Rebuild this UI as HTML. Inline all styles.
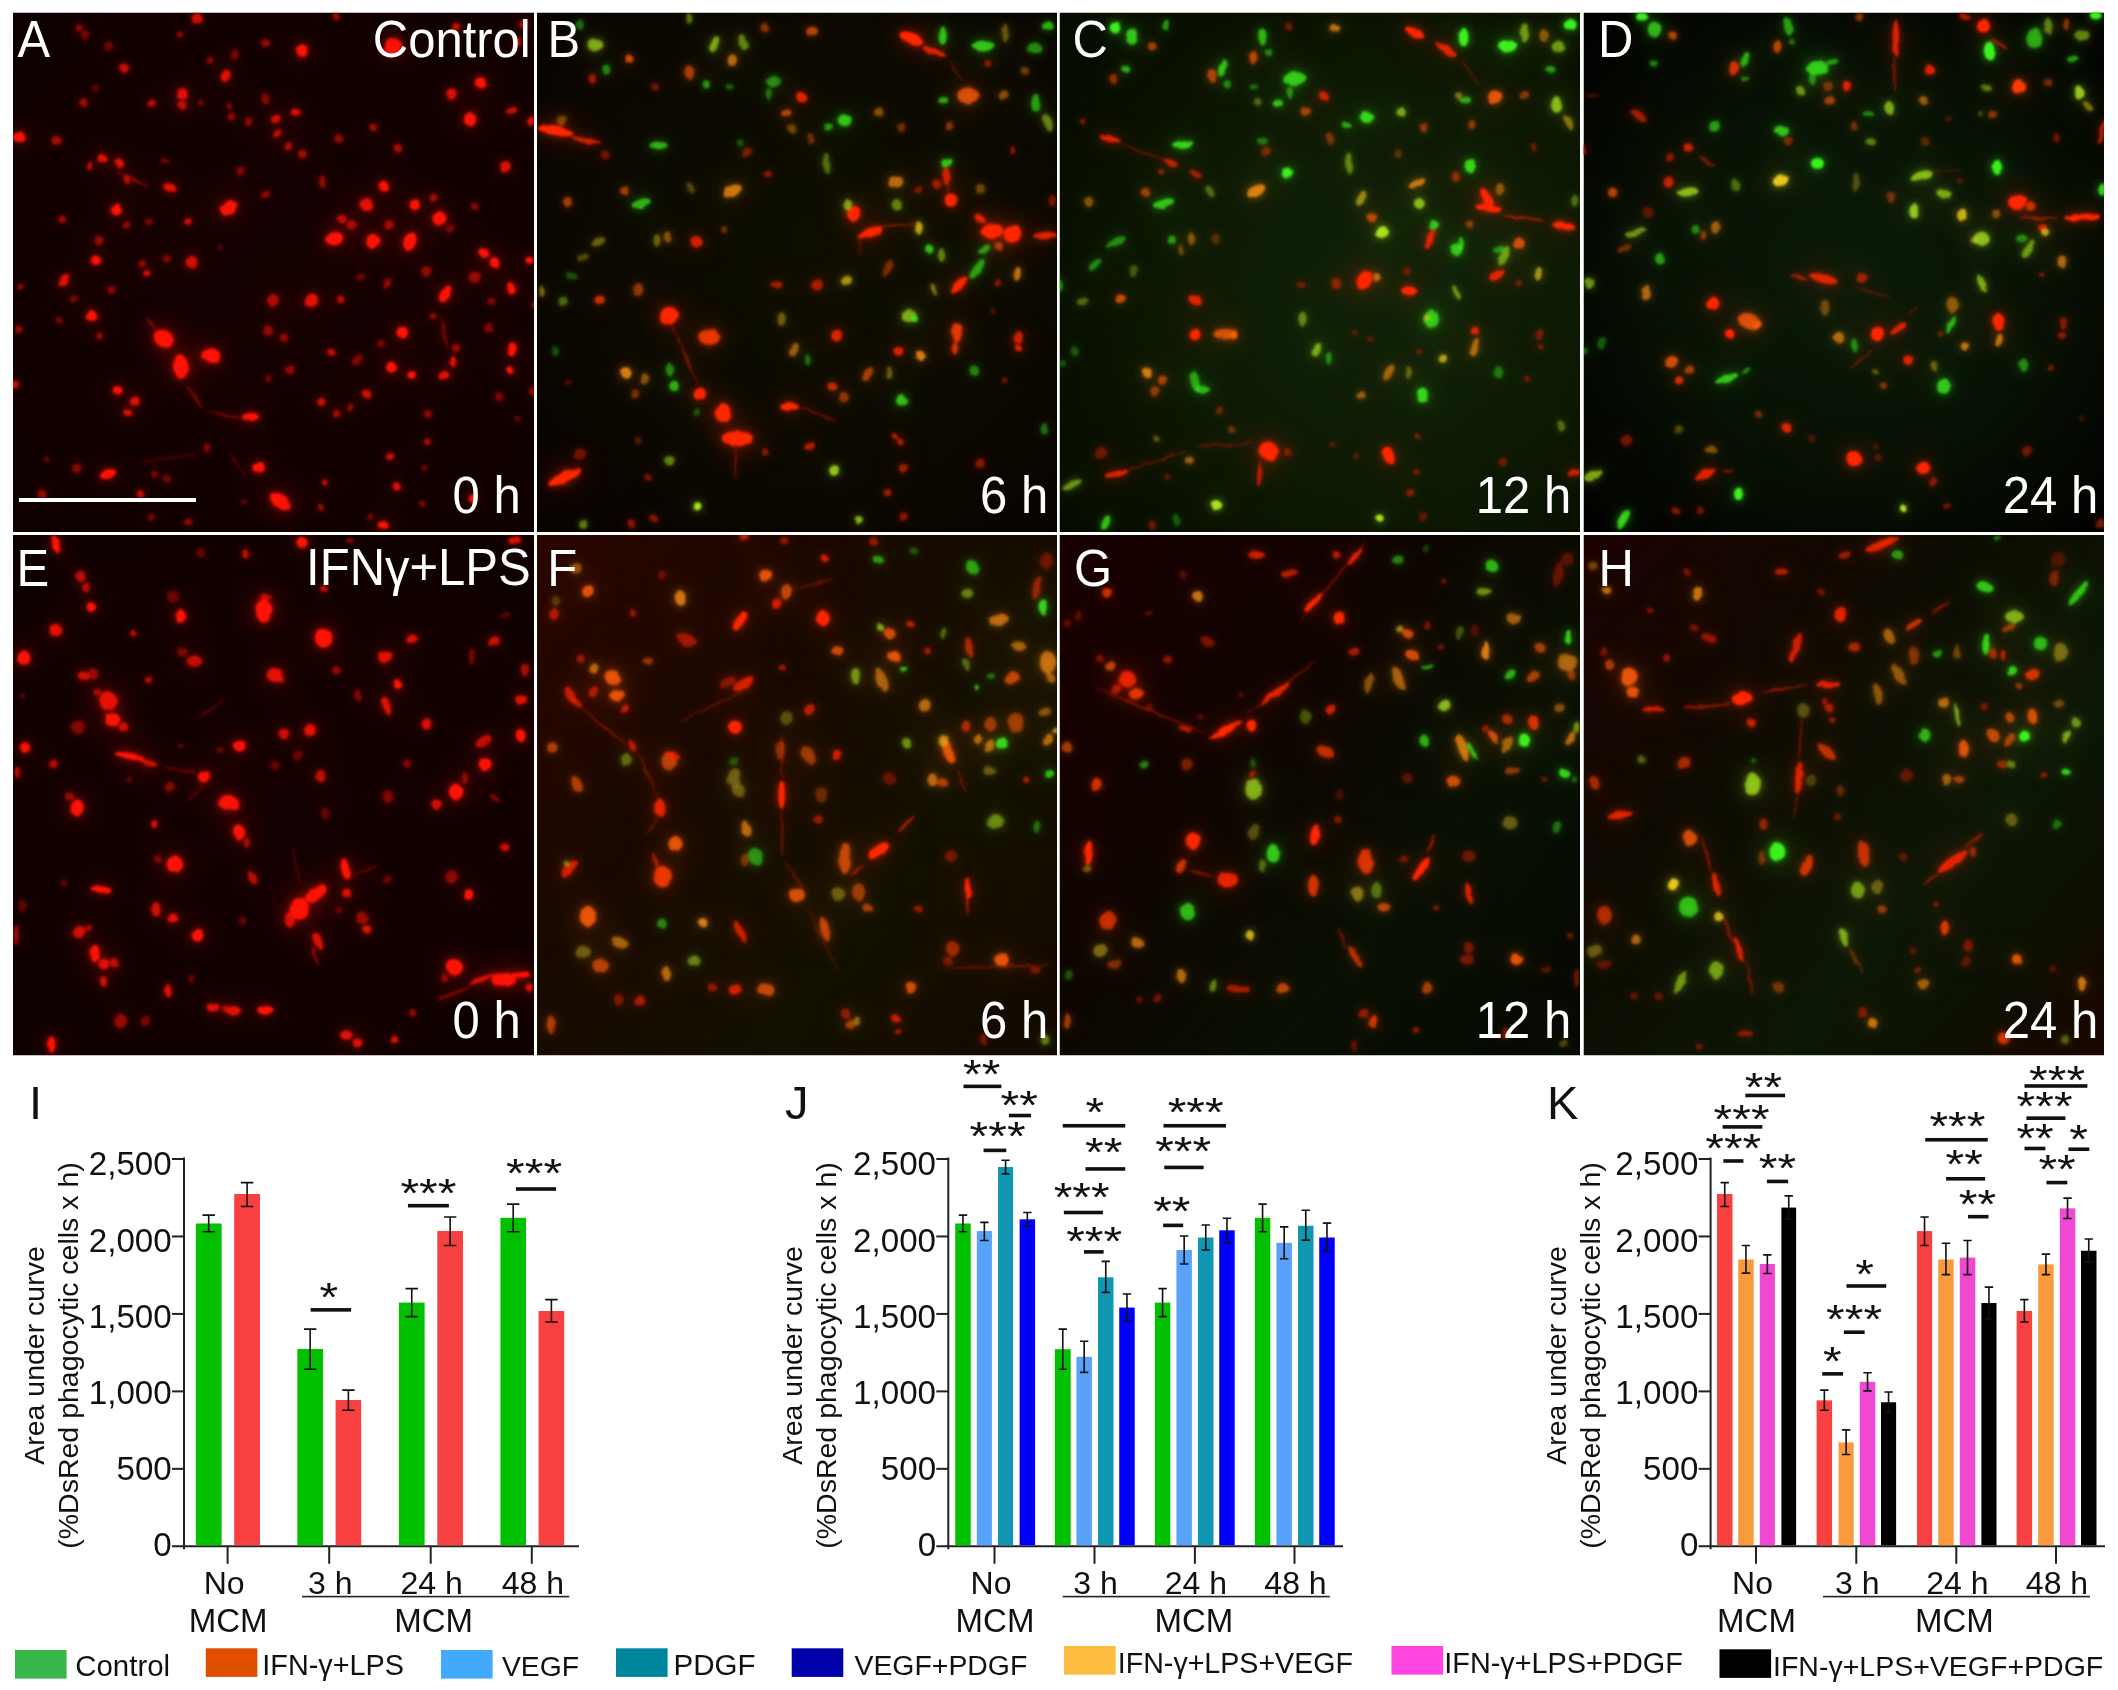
<!DOCTYPE html>
<html lang="en"><head><meta charset="utf-8"><title>Figure</title>
<style>html,body{margin:0;padding:0;background:#fff;}svg{display:block;}text{font-family:"Liberation Sans", sans-serif;}.w{fill:#fff;}.k{fill:#111;}</style></head><body>
<svg width="2118" height="1690" viewBox="0 0 2118 1690">
<defs>
<filter id="glow" x="-5%" y="-5%" width="110%" height="110%" color-interpolation-filters="sRGB"><feTurbulence type="fractalNoise" baseFrequency="0.028" numOctaves="2" seed="7" result="n"/><feDisplacementMap in="SourceGraphic" in2="n" scale="14" xChannelSelector="R" yChannelSelector="G" result="d"/><feGaussianBlur in="d" stdDeviation="4" result="a"/><feGaussianBlur in="d" stdDeviation="13" result="b"/><feGaussianBlur in="SourceGraphic" stdDeviation="50" result="h0"/><feComponentTransfer in="b" result="c"><feFuncA type="linear" slope="0.7"/></feComponentTransfer><feComponentTransfer in="h0" result="h"><feFuncA type="linear" slope="0.6"/></feComponentTransfer><feMerge><feMergeNode in="h"/><feMergeNode in="c"/><feMergeNode in="a"/></feMerge></filter>
<radialGradient id="bgA" cx="50%" cy="50%" r="75%"><stop offset="0" stop-color="#150000"/><stop offset="1" stop-color="#0e0000"/></radialGradient>
<radialGradient id="bgB" cx="55%" cy="45%" r="70%"><stop offset="0" stop-color="#0e0e01"/><stop offset="0.6" stop-color="#0b0900"/><stop offset="1" stop-color="#090300"/></radialGradient>
<radialGradient id="bgC" cx="62%" cy="55%" r="72%"><stop offset="0" stop-color="#102208"/><stop offset="0.5" stop-color="#0d1a04"/><stop offset="1" stop-color="#070c00"/></radialGradient>
<radialGradient id="bgD" cx="52%" cy="50%" r="68%"><stop offset="0" stop-color="#0b1b08"/><stop offset="0.55" stop-color="#071104"/><stop offset="1" stop-color="#020100"/></radialGradient>
<radialGradient id="bgE" cx="50%" cy="50%" r="75%"><stop offset="0" stop-color="#140000"/><stop offset="1" stop-color="#0e0000"/></radialGradient>
<linearGradient id="bgF" x1="0" y1="0" x2="1" y2="0.8"><stop offset="0" stop-color="#2a0500"/><stop offset="0.4" stop-color="#180900"/><stop offset="0.75" stop-color="#121000"/><stop offset="1" stop-color="#140b00"/></linearGradient>
<linearGradient id="bgG" x1="0" y1="0" x2="1" y2="0.8"><stop offset="0" stop-color="#1a0000"/><stop offset="0.4" stop-color="#0e0400"/><stop offset="0.75" stop-color="#081004"/><stop offset="1" stop-color="#060a02"/></linearGradient>
<linearGradient id="bgH" x1="0" y1="0" x2="1" y2="0.9"><stop offset="0" stop-color="#1c0200"/><stop offset="0.4" stop-color="#0d0c02"/><stop offset="0.7" stop-color="#0c1706"/><stop offset="0.88" stop-color="#0c1003"/><stop offset="1" stop-color="#180700"/></linearGradient>
</defs>
<rect x="0" y="0" width="2118" height="1690" fill="#fff"/>
<svg x="13" y="12.5" width="521" height="519.5" viewBox="0 0 521 519.5">
<rect x="0" y="0" width="521" height="519.5" fill="url(#bgA)"/>
<g transform="scale(0.30769)" filter="url(#glow)">
<ellipse cx="940" cy="125" rx="18.92" ry="18.92" fill="#ff1206" opacity="1"/>
<ellipse cx="1235" cy="110" rx="25.5" ry="25.5" fill="#ff1206" opacity="1"/>
<ellipse cx="1520" cy="230" rx="18.92" ry="18.92" fill="#ff1206" opacity="1"/>
<ellipse cx="1425" cy="265" rx="13.28" ry="18.92" fill="#ff1206" opacity="0.81"/>
<ellipse cx="1485" cy="345" rx="20.8" ry="20.8" fill="#ff1206" opacity="1"/>
<ellipse cx="1685" cy="355" rx="13.28" ry="13.28" fill="#ff1206" opacity="0.81"/>
<ellipse cx="1620" cy="320" rx="18.92" ry="11.4" fill="#ff1206" opacity="0.72" transform="rotate(-20 1620 320)"/>
<ellipse cx="690" cy="205" rx="15.16" ry="18.92" fill="#ff1206" opacity="0.81"/>
<ellipse cx="550" cy="265" rx="18.92" ry="18.92" fill="#ff1206" opacity="0.81"/>
<ellipse cx="550" cy="300" rx="13.28" ry="13.28" fill="#ff1206" opacity="0.63"/>
<ellipse cx="360" cy="180" rx="13.28" ry="13.28" fill="#ff1206" opacity="0.72"/>
<ellipse cx="230" cy="290" rx="13.28" ry="13.28" fill="#ff1206" opacity="0.54"/>
<ellipse cx="450" cy="295" rx="13.28" ry="13.28" fill="#ff1206" opacity="0.63"/>
<ellipse cx="920" cy="325" rx="13.28" ry="13.28" fill="#ff1206" opacity="0.81"/>
<ellipse cx="855" cy="345" rx="13.28" ry="13.28" fill="#ff1206" opacity="0.72"/>
<ellipse cx="20" cy="405" rx="20.8" ry="15.16" fill="#ff1206" opacity="1"/>
<ellipse cx="140" cy="415" rx="15.16" ry="15.16" fill="#ff1206" opacity="0.54"/>
<ellipse cx="290" cy="475" rx="18.92" ry="13.28" fill="#ff1206" opacity="0.81" transform="rotate(30 290 475)"/>
<ellipse cx="345" cy="490" rx="17.04" ry="11.4" fill="#ff1206" opacity="0.81" transform="rotate(30 345 490)"/>
<ellipse cx="510" cy="570" rx="22.68" ry="13.28" fill="#ff1206" opacity="0.81" transform="rotate(25 510 570)"/>
<ellipse cx="700" cy="635" rx="28.32" ry="20.8" fill="#ff1206" opacity="1" transform="rotate(-25 700 635)"/>
<ellipse cx="335" cy="640" rx="15.16" ry="18.92" fill="#ff1206" opacity="1"/>
<ellipse cx="160" cy="670" rx="13.28" ry="13.28" fill="#ff1206" opacity="0.54"/>
<ellipse cx="370" cy="690" rx="11.4" ry="11.4" fill="#ff1206" opacity="0.45"/>
<ellipse cx="570" cy="680" rx="13.28" ry="13.28" fill="#ff1206" opacity="0.72"/>
<ellipse cx="1205" cy="565" rx="17.04" ry="17.04" fill="#ff1206" opacity="1"/>
<ellipse cx="1305" cy="625" rx="17.04" ry="17.04" fill="#ff1206" opacity="1"/>
<ellipse cx="1150" cy="625" rx="20.8" ry="20.8" fill="#ff1206" opacity="0.81"/>
<ellipse cx="1385" cy="670" rx="20.8" ry="20.8" fill="#ff1206" opacity="1"/>
<ellipse cx="1045" cy="735" rx="28.32" ry="20.8" fill="#ff1206" opacity="1" transform="rotate(-15 1045 735)"/>
<ellipse cx="1170" cy="740" rx="20.8" ry="20.8" fill="#ff1206" opacity="1"/>
<ellipse cx="1290" cy="745" rx="18.92" ry="32.08" fill="#ff1206" opacity="1" transform="rotate(25 1290 745)"/>
<ellipse cx="1600" cy="500" rx="17.04" ry="17.04" fill="#ff1206" opacity="0.81"/>
<ellipse cx="1250" cy="440" rx="13.28" ry="13.28" fill="#ff1206" opacity="0.54"/>
<ellipse cx="1530" cy="780" rx="18.92" ry="15.16" fill="#ff1206" opacity="1" transform="rotate(40 1530 780)"/>
<ellipse cx="1565" cy="815" rx="15.16" ry="15.16" fill="#ff1206" opacity="1"/>
<ellipse cx="1680" cy="805" rx="15.16" ry="11.4" fill="#ff1206" opacity="1"/>
<ellipse cx="1405" cy="915" rx="15.16" ry="28.32" fill="#ff1206" opacity="1" transform="rotate(35 1405 915)"/>
<ellipse cx="1620" cy="895" rx="13.28" ry="20.8" fill="#ff1206" opacity="1"/>
<ellipse cx="270" cy="805" rx="15.16" ry="15.16" fill="#ff1206" opacity="1"/>
<ellipse cx="580" cy="810" rx="18.92" ry="18.92" fill="#ff1206" opacity="0.72"/>
<ellipse cx="435" cy="845" rx="11.4" ry="11.4" fill="#ff1206" opacity="0.81"/>
<ellipse cx="165" cy="870" rx="11.4" ry="22.68" fill="#ff1206" opacity="0.81" transform="rotate(35 165 870)"/>
<ellipse cx="255" cy="985" rx="17.04" ry="17.04" fill="#ff1206" opacity="1"/>
<ellipse cx="970" cy="935" rx="20.8" ry="20.8" fill="#ff1206" opacity="0.81"/>
<ellipse cx="845" cy="935" rx="18.92" ry="18.92" fill="#ff1206" opacity="0.54"/>
<ellipse cx="1065" cy="930" rx="11.4" ry="11.4" fill="#ff1206" opacity="0.63"/>
<ellipse cx="490" cy="1060" rx="33.96" ry="26.44" fill="#ff1206" opacity="1" transform="rotate(25 490 1060)"/>
<ellipse cx="545" cy="1150" rx="24.56" ry="39.6" fill="#ff1206" opacity="1" transform="rotate(-10 545 1150)"/>
<ellipse cx="645" cy="1115" rx="32.08" ry="22.68" fill="#ff1206" opacity="1" transform="rotate(15 645 1115)"/>
<ellipse cx="1265" cy="1040" rx="18.92" ry="18.92" fill="#ff1206" opacity="1"/>
<ellipse cx="1620" cy="1095" rx="13.28" ry="22.68" fill="#ff1206" opacity="1"/>
<ellipse cx="1615" cy="1160" rx="11.4" ry="11.4" fill="#ff1206" opacity="1"/>
<ellipse cx="1230" cy="1155" rx="17.04" ry="17.04" fill="#ff1206" opacity="1"/>
<ellipse cx="1295" cy="1180" rx="13.28" ry="13.28" fill="#ff1206" opacity="1"/>
<ellipse cx="1400" cy="1180" rx="15.16" ry="15.16" fill="#ff1206" opacity="0.81"/>
<ellipse cx="1035" cy="1105" rx="13.28" ry="13.28" fill="#ff1206" opacity="0.72"/>
<ellipse cx="1150" cy="1240" rx="13.28" ry="13.28" fill="#ff1206" opacity="0.72"/>
<ellipse cx="1005" cy="1265" rx="13.28" ry="13.28" fill="#ff1206" opacity="0.72"/>
<ellipse cx="340" cy="1230" rx="15.16" ry="15.16" fill="#ff1206" opacity="1"/>
<ellipse cx="395" cy="1265" rx="15.16" ry="15.16" fill="#ff1206" opacity="0.81"/>
<ellipse cx="375" cy="1300" rx="13.28" ry="13.28" fill="#ff1206" opacity="0.81"/>
<ellipse cx="770" cy="1315" rx="26.44" ry="11.4" fill="#ff1206" opacity="1" transform="rotate(5 770 1315)"/>
<ellipse cx="800" cy="1480" rx="18.92" ry="15.16" fill="#ff1206" opacity="1"/>
<ellipse cx="310" cy="1500" rx="26.44" ry="11.4" fill="#ff1206" opacity="1" transform="rotate(-10 310 1500)"/>
<ellipse cx="870" cy="1590" rx="39.6" ry="20.8" fill="#ff1206" opacity="1" transform="rotate(35 870 1590)"/>
<ellipse cx="1205" cy="1665" rx="18.92" ry="13.28" fill="#ff1206" opacity="1"/>
<ellipse cx="1245" cy="1540" rx="13.28" ry="13.28" fill="#ff1206" opacity="0.81"/>
<ellipse cx="1225" cy="1440" rx="11.4" ry="11.4" fill="#ff1206" opacity="0.72"/>
<ellipse cx="1345" cy="1395" rx="11.4" ry="11.4" fill="#ff1206" opacity="0.63"/>
<ellipse cx="1495" cy="1580" rx="13.28" ry="13.28" fill="#ff1206" opacity="1"/>
<ellipse cx="1015" cy="1530" rx="11.4" ry="11.4" fill="#ff1206" opacity="0.63"/>
<ellipse cx="415" cy="1565" rx="11.4" ry="11.4" fill="#ff1206" opacity="0.72"/>
<ellipse cx="205" cy="1480" rx="17.04" ry="17.04" fill="#ff1206" opacity="0.405"/>
<ellipse cx="95" cy="1565" rx="15.16" ry="15.16" fill="#ff1206" opacity="0.45"/>
<ellipse cx="1430" cy="1135" rx="9.52" ry="18.92" fill="#ff1206" opacity="0.81"/>
<ellipse cx="1440" cy="1090" rx="13.28" ry="13.28" fill="#ff1206" opacity="0.45"/>
<ellipse cx="600" cy="20" rx="15.16" ry="15.16" fill="#ff1206" opacity="0.72"/>
<ellipse cx="1050" cy="15" rx="11.4" ry="11.4" fill="#ff1206" opacity="0.54"/>
<ellipse cx="215" cy="50" rx="11.4" ry="11.4" fill="#ff1206" opacity="0.45"/>
<ellipse cx="545" cy="70" rx="11.4" ry="11.4" fill="#ff1206" opacity="0.45"/>
<ellipse cx="820" cy="100" rx="11.4" ry="11.4" fill="#ff1206" opacity="0.45"/>
<ellipse cx="640" cy="155" rx="11.4" ry="11.4" fill="#ff1206" opacity="0.45"/>
<ellipse cx="1170" cy="375" rx="13.28" ry="13.28" fill="#ff1206" opacity="0.54"/>
<ellipse cx="1060" cy="410" rx="13.28" ry="13.28" fill="#ff1206" opacity="0.45"/>
<ellipse cx="895" cy="435" rx="13.28" ry="13.28" fill="#ff1206" opacity="0.54"/>
<ellipse cx="940" cy="460" rx="13.28" ry="13.28" fill="#ff1206" opacity="0.54"/>
<ellipse cx="860" cy="395" rx="13.28" ry="13.28" fill="#ff1206" opacity="0.63"/>
<ellipse cx="710" cy="340" rx="11.4" ry="11.4" fill="#ff1206" opacity="0.45"/>
<ellipse cx="765" cy="355" rx="11.4" ry="11.4" fill="#ff1206" opacity="0.45"/>
<ellipse cx="740" cy="515" rx="15.16" ry="15.16" fill="#ff1206" opacity="0.36"/>
<ellipse cx="1005" cy="550" rx="9.52" ry="20.8" fill="#ff1206" opacity="0.45"/>
<ellipse cx="820" cy="590" rx="11.4" ry="11.4" fill="#ff1206" opacity="0.45"/>
<ellipse cx="1365" cy="600" rx="11.4" ry="11.4" fill="#ff1206" opacity="0.54"/>
<ellipse cx="1070" cy="670" rx="15.16" ry="15.16" fill="#ff1206" opacity="0.63"/>
<ellipse cx="1100" cy="690" rx="15.16" ry="15.16" fill="#ff1206" opacity="0.54"/>
<ellipse cx="1220" cy="690" rx="15.16" ry="15.16" fill="#ff1206" opacity="0.54"/>
<ellipse cx="1500" cy="630" rx="11.4" ry="11.4" fill="#ff1206" opacity="0.45"/>
<ellipse cx="1420" cy="700" rx="13.28" ry="13.28" fill="#ff1206" opacity="0.36"/>
<ellipse cx="280" cy="740" rx="15.16" ry="15.16" fill="#ff1206" opacity="0.45"/>
<ellipse cx="440" cy="680" rx="11.4" ry="11.4" fill="#ff1206" opacity="0.36"/>
<ellipse cx="500" cy="800" rx="13.28" ry="13.28" fill="#ff1206" opacity="0.36"/>
<ellipse cx="420" cy="815" rx="11.4" ry="11.4" fill="#ff1206" opacity="0.45"/>
<ellipse cx="320" cy="900" rx="11.4" ry="11.4" fill="#ff1206" opacity="0.45"/>
<ellipse cx="200" cy="930" rx="11.4" ry="11.4" fill="#ff1206" opacity="0.36"/>
<ellipse cx="150" cy="1000" rx="11.4" ry="11.4" fill="#ff1206" opacity="0.36"/>
<ellipse cx="280" cy="1050" rx="11.4" ry="11.4" fill="#ff1206" opacity="0.45"/>
<ellipse cx="20" cy="1030" rx="11.4" ry="11.4" fill="#ff1206" opacity="0.54"/>
<ellipse cx="5" cy="1210" rx="13.28" ry="13.28" fill="#ff1206" opacity="0.72"/>
<ellipse cx="830" cy="1035" rx="15.16" ry="15.16" fill="#ff1206" opacity="0.45"/>
<ellipse cx="880" cy="1060" rx="13.28" ry="13.28" fill="#ff1206" opacity="0.45"/>
<ellipse cx="1130" cy="860" rx="15.16" ry="15.16" fill="#ff1206" opacity="0.27"/>
<ellipse cx="1215" cy="880" rx="11.4" ry="20.8" fill="#ff1206" opacity="0.45" transform="rotate(30 1215 880)"/>
<ellipse cx="1345" cy="840" rx="15.16" ry="15.16" fill="#ff1206" opacity="0.45"/>
<ellipse cx="1500" cy="860" rx="20.8" ry="20.8" fill="#ff1206" opacity="0.45"/>
<ellipse cx="1555" cy="940" rx="13.28" ry="13.28" fill="#ff1206" opacity="0.36"/>
<ellipse cx="1365" cy="985" rx="11.4" ry="11.4" fill="#ff1206" opacity="0.45"/>
<ellipse cx="1545" cy="1025" rx="15.16" ry="15.16" fill="#ff1206" opacity="0.36"/>
<ellipse cx="1690" cy="1230" rx="13.28" ry="13.28" fill="#ff1206" opacity="0.45"/>
<ellipse cx="1580" cy="1250" rx="13.28" ry="13.28" fill="#ff1206" opacity="0.36"/>
<ellipse cx="1350" cy="1305" rx="11.4" ry="11.4" fill="#ff1206" opacity="0.45"/>
<ellipse cx="1050" cy="1305" rx="11.4" ry="11.4" fill="#ff1206" opacity="0.54"/>
<ellipse cx="1095" cy="1285" rx="11.4" ry="11.4" fill="#ff1206" opacity="0.45"/>
<ellipse cx="900" cy="1160" rx="13.28" ry="13.28" fill="#ff1206" opacity="0.45"/>
<ellipse cx="830" cy="1190" rx="11.4" ry="11.4" fill="#ff1206" opacity="0.36"/>
<ellipse cx="1195" cy="1075" rx="11.4" ry="11.4" fill="#ff1206" opacity="0.36"/>
<ellipse cx="1120" cy="1130" rx="20.8" ry="13.28" fill="#ff1206" opacity="0.36" transform="rotate(-30 1120 1130)"/>
<ellipse cx="630" cy="1415" rx="13.28" ry="13.28" fill="#ff1206" opacity="0.36"/>
<ellipse cx="500" cy="1515" rx="13.28" ry="13.28" fill="#ff1206" opacity="0.36"/>
<ellipse cx="460" cy="1500" rx="11.4" ry="11.4" fill="#ff1206" opacity="0.36"/>
<ellipse cx="110" cy="1450" rx="9.52" ry="9.52" fill="#ff1206" opacity="0.36"/>
<ellipse cx="570" cy="1655" rx="11.4" ry="11.4" fill="#ff1206" opacity="0.45"/>
<ellipse cx="450" cy="1640" rx="11.4" ry="11.4" fill="#ff1206" opacity="0.36"/>
<ellipse cx="1340" cy="1480" rx="9.52" ry="9.52" fill="#ff1206" opacity="0.36"/>
<ellipse cx="1330" cy="1595" rx="9.52" ry="9.52" fill="#ff1206" opacity="0.45"/>
<ellipse cx="1160" cy="1640" rx="9.52" ry="9.52" fill="#ff1206" opacity="0.36"/>
<ellipse cx="1000" cy="1610" rx="9.52" ry="15.16" fill="#ff1206" opacity="0.54"/>
<ellipse cx="750" cy="1590" rx="9.52" ry="9.52" fill="#ff1206" opacity="0.27"/>
<ellipse cx="1640" cy="95" rx="13.28" ry="13.28" fill="#ff1206" opacity="0.63"/>
<ellipse cx="1660" cy="40" rx="13.28" ry="13.28" fill="#ff1206" opacity="0.63"/>
<ellipse cx="1440" cy="45" rx="11.4" ry="11.4" fill="#ff1206" opacity="0.72"/>
<ellipse cx="25" cy="890" rx="9.52" ry="9.52" fill="#ff1206" opacity="0.45"/>
<ellipse cx="1690" cy="950" rx="9.52" ry="9.52" fill="#ff1206" opacity="0.54"/>
<ellipse cx="1640" cy="1320" rx="9.52" ry="9.52" fill="#ff1206" opacity="0.27"/>
<ellipse cx="390" cy="540" rx="58.4" ry="4.02" fill="#ff1206" opacity="0.45" transform="rotate(28 390 540)"/>
<ellipse cx="590" cy="1250" rx="49" ry="4.02" fill="#ff1206" opacity="0.45" transform="rotate(55 590 1250)"/>
<ellipse cx="690" cy="1310" rx="58.4" ry="2.68" fill="#ff1206" opacity="0.45" transform="rotate(10 690 1310)"/>
<ellipse cx="730" cy="1470" rx="49" ry="2.68" fill="#ff1206" opacity="0.36" transform="rotate(55 730 1470)"/>
<ellipse cx="450" cy="1015" rx="30.2" ry="4.02" fill="#ff1206" opacity="0.45" transform="rotate(50 450 1015)"/>
<ellipse cx="500" cy="1450" rx="105.4" ry="2.68" fill="#ff1206" opacity="0.27" transform="rotate(-8 500 1450)"/>
<ellipse cx="1400" cy="1040" rx="5.36" ry="49" fill="#ff1206" opacity="0.36" transform="rotate(-10 1400 1040)"/>
<ellipse cx="235" cy="75" rx="13.28" ry="13.28" fill="#ff1206" opacity="0.36"/>
<ellipse cx="310" cy="110" rx="15.16" ry="15.16" fill="#ff1206" opacity="0.315"/>
<ellipse cx="720" cy="135" rx="11.4" ry="17.04" fill="#ff1206" opacity="0.36"/>
<ellipse cx="270" cy="245" rx="11.4" ry="11.4" fill="#ff1206" opacity="0.27"/>
<ellipse cx="608" cy="295" rx="11.4" ry="11.4" fill="#ff1206" opacity="0.36"/>
<ellipse cx="820" cy="280" rx="13.28" ry="18.92" fill="#ff1206" opacity="0.36"/>
<ellipse cx="705" cy="305" rx="9.52" ry="9.52" fill="#ff1206" opacity="0.45"/>
<ellipse cx="495" cy="482" rx="15.16" ry="9.52" fill="#ff1206" opacity="0.315"/>
<ellipse cx="370" cy="542" rx="13.28" ry="11.4" fill="#ff1206" opacity="0.63" transform="rotate(30 370 542)"/>
<ellipse cx="250" cy="500" rx="9.52" ry="13.28" fill="#ff1206" opacity="0.63"/>
<ellipse cx="672" cy="762" rx="9.52" ry="9.52" fill="#ff1206" opacity="0.225"/>
</g></svg>
<svg x="537" y="12.5" width="520" height="519.5" viewBox="0 0 520 519.5">
<rect x="0" y="0" width="520" height="519.5" fill="url(#bgB)"/>
<g transform="scale(0.30769)" filter="url(#glow)">
<ellipse cx="1215" cy="85" rx="39.6" ry="17.04" fill="#ff2600" opacity="1" transform="rotate(25 1215 85)"/>
<ellipse cx="1290" cy="128" rx="39.6" ry="8.58" fill="#ff2600" opacity="0.81" transform="rotate(20 1290 128)"/>
<ellipse cx="60" cy="385" rx="58.4" ry="13.28" fill="#ff2600" opacity="1" transform="rotate(10 60 385)"/>
<ellipse cx="160" cy="415" rx="49" ry="8.58" fill="#ff2600" opacity="0.72" transform="rotate(12 160 415)"/>
<ellipse cx="1030" cy="655" rx="22.68" ry="22.68" fill="#ff2600" opacity="1"/>
<ellipse cx="1345" cy="610" rx="18.92" ry="18.92" fill="#ff2600" opacity="1"/>
<ellipse cx="1085" cy="715" rx="39.6" ry="14.22" fill="#ff2600" opacity="1" transform="rotate(-20 1085 715)"/>
<ellipse cx="1480" cy="710" rx="34.9" ry="25.5" fill="#ff2600" opacity="1"/>
<ellipse cx="1545" cy="720" rx="28.32" ry="28.32" fill="#ff2600" opacity="1"/>
<ellipse cx="1650" cy="725" rx="39.6" ry="11.4" fill="#ff2600" opacity="0.81" transform="rotate(-5 1650 725)"/>
<ellipse cx="1440" cy="670" rx="20.8" ry="11.4" fill="#ff2600" opacity="0.81" transform="rotate(30 1440 670)"/>
<ellipse cx="1370" cy="885" rx="34.9" ry="12.34" fill="#ff2600" opacity="1" transform="rotate(-45 1370 885)"/>
<ellipse cx="430" cy="985" rx="28.32" ry="28.32" fill="#ff2600" opacity="1"/>
<ellipse cx="560" cy="1055" rx="34.9" ry="25.5" fill="#ff3c00" opacity="0.81"/>
<ellipse cx="530" cy="1240" rx="22.68" ry="18.92" fill="#ff2600" opacity="1"/>
<ellipse cx="605" cy="1300" rx="26.44" ry="30.2" fill="#ff2600" opacity="1"/>
<ellipse cx="650" cy="1385" rx="49" ry="24.56" fill="#ff2600" opacity="1"/>
<ellipse cx="820" cy="1280" rx="30.2" ry="14.22" fill="#ff2600" opacity="1"/>
<ellipse cx="90" cy="1510" rx="58.4" ry="15.16" fill="#ff2600" opacity="1" transform="rotate(-25 90 1510)"/>
<ellipse cx="1400" cy="270" rx="34.9" ry="25.5" fill="#ff5c0a" opacity="0.72"/>
<ellipse cx="860" cy="275" rx="17.04" ry="17.04" fill="#ff2600" opacity="0.81"/>
<ellipse cx="810" cy="325" rx="17.04" ry="11.4" fill="#ff5c0a" opacity="0.63"/>
<ellipse cx="1365" cy="1040" rx="18.92" ry="30.2" fill="#ff3c00" opacity="0.81"/>
<ellipse cx="1360" cy="1090" rx="9.52" ry="22.68" fill="#ff3c00" opacity="0.72" transform="rotate(10 1360 1090)"/>
<ellipse cx="975" cy="1050" rx="18.92" ry="18.92" fill="#ff2600" opacity="0.81"/>
<ellipse cx="1175" cy="1100" rx="15.16" ry="15.16" fill="#ff2600" opacity="0.81"/>
<ellipse cx="1245" cy="1115" rx="15.16" ry="15.16" fill="#f58c14" opacity="0.81"/>
<ellipse cx="1565" cy="1055" rx="13.28" ry="20.8" fill="#ff2600" opacity="0.72"/>
<ellipse cx="1565" cy="1090" rx="11.4" ry="11.4" fill="#ff2600" opacity="0.81"/>
<ellipse cx="520" cy="745" rx="18.92" ry="18.92" fill="#ff2600" opacity="0.72"/>
<ellipse cx="205" cy="935" rx="15.16" ry="15.16" fill="#ff3c00" opacity="0.72"/>
<ellipse cx="290" cy="1170" rx="17.04" ry="17.04" fill="#f58c14" opacity="0.81"/>
<ellipse cx="100" cy="615" rx="15.16" ry="15.16" fill="#ff5c0a" opacity="0.54"/>
<ellipse cx="285" cy="580" rx="15.16" ry="15.16" fill="#ff5c0a" opacity="0.54"/>
<ellipse cx="300" cy="150" rx="13.28" ry="13.28" fill="#ff5c0a" opacity="0.72"/>
<ellipse cx="180" cy="215" rx="13.28" ry="13.28" fill="#ff2600" opacity="0.54"/>
<ellipse cx="385" cy="240" rx="13.28" ry="13.28" fill="#ff2600" opacity="0.36"/>
<ellipse cx="495" cy="195" rx="15.16" ry="22.68" fill="#ff5c0a" opacity="0.54"/>
<ellipse cx="635" cy="155" rx="15.16" ry="18.92" fill="#f58c14" opacity="0.63"/>
<ellipse cx="895" cy="60" rx="17.04" ry="13.28" fill="#ff5c0a" opacity="0.63"/>
<ellipse cx="740" cy="50" rx="13.28" ry="13.28" fill="#ff5c0a" opacity="0.45"/>
<ellipse cx="635" cy="580" rx="30.2" ry="17.98" fill="#f58c14" opacity="0.72" transform="rotate(-25 635 580)"/>
<ellipse cx="1165" cy="550" rx="25.5" ry="18.92" fill="#f58c14" opacity="0.63"/>
<ellipse cx="1330" cy="530" rx="10.46" ry="30.2" fill="#ff2600" opacity="0.72"/>
<ellipse cx="1300" cy="555" rx="15.16" ry="15.16" fill="#ff2600" opacity="0.54"/>
<ellipse cx="1240" cy="700" rx="13.28" ry="18.92" fill="#e6c81e" opacity="0.72"/>
<ellipse cx="1010" cy="625" rx="13.28" ry="18.92" fill="#a6e220" opacity="0.63"/>
<ellipse cx="1170" cy="625" rx="18.92" ry="18.92" fill="#a6e220" opacity="0.45"/>
<ellipse cx="780" cy="885" rx="18.92" ry="11.4" fill="#ff2600" opacity="0.54"/>
<ellipse cx="910" cy="885" rx="18.92" ry="18.92" fill="#ff2600" opacity="0.54"/>
<ellipse cx="1005" cy="870" rx="17.04" ry="13.28" fill="#e6c81e" opacity="0.63"/>
<ellipse cx="1560" cy="850" rx="11.4" ry="22.68" fill="#f58c14" opacity="0.72"/>
<ellipse cx="1430" cy="835" rx="12.34" ry="39.6" fill="#3cf01e" opacity="0.54" transform="rotate(35 1430 835)"/>
<ellipse cx="1455" cy="770" rx="25.5" ry="11.4" fill="#3cf01e" opacity="0.54" transform="rotate(-35 1455 770)"/>
<ellipse cx="1275" cy="770" rx="13.28" ry="13.28" fill="#3cf01e" opacity="0.72"/>
<ellipse cx="1315" cy="790" rx="11.4" ry="20.8" fill="#a6e220" opacity="0.45"/>
<ellipse cx="1210" cy="985" rx="25.5" ry="20.8" fill="#a6e220" opacity="0.63"/>
<ellipse cx="1230" cy="995" rx="11.4" ry="11.4" fill="#3cf01e" opacity="0.81"/>
<ellipse cx="1185" cy="1260" rx="18.92" ry="18.92" fill="#3cf01e" opacity="0.72"/>
<ellipse cx="1420" cy="1165" rx="17.04" ry="17.04" fill="#3cf01e" opacity="0.45"/>
<ellipse cx="965" cy="1490" rx="15.16" ry="15.16" fill="#a6e220" opacity="0.81"/>
<ellipse cx="520" cy="1605" rx="13.28" ry="13.28" fill="#a6e220" opacity="1"/>
<ellipse cx="1045" cy="1650" rx="13.28" ry="13.28" fill="#a6e220" opacity="0.72"/>
<ellipse cx="445" cy="1215" rx="15.16" ry="15.16" fill="#3cf01e" opacity="0.63"/>
<ellipse cx="430" cy="1160" rx="11.4" ry="20.8" fill="#3cf01e" opacity="0.45"/>
<ellipse cx="340" cy="620" rx="30.2" ry="14.22" fill="#3cf01e" opacity="0.63" transform="rotate(-15 340 620)"/>
<ellipse cx="395" cy="430" rx="30.2" ry="11.4" fill="#3cf01e" opacity="0.63" transform="rotate(-5 395 430)"/>
<ellipse cx="190" cy="105" rx="25.5" ry="20.8" fill="#a6e220" opacity="0.63"/>
<ellipse cx="225" cy="185" rx="13.28" ry="17.04" fill="#3cf01e" opacity="0.45"/>
<ellipse cx="575" cy="105" rx="13.28" ry="25.5" fill="#a6e220" opacity="0.63" transform="rotate(20 575 105)"/>
<ellipse cx="670" cy="95" rx="13.28" ry="25.5" fill="#a6e220" opacity="0.45" transform="rotate(-20 670 95)"/>
<ellipse cx="770" cy="225" rx="25.5" ry="15.16" fill="#3cf01e" opacity="0.45"/>
<ellipse cx="755" cy="265" rx="9.52" ry="20.8" fill="#3cf01e" opacity="0.36"/>
<ellipse cx="550" cy="235" rx="11.4" ry="11.4" fill="#3cf01e" opacity="0.54"/>
<ellipse cx="625" cy="240" rx="15.16" ry="9.52" fill="#3cf01e" opacity="0.36"/>
<ellipse cx="1000" cy="350" rx="22.68" ry="18.92" fill="#3cf01e" opacity="0.72"/>
<ellipse cx="945" cy="370" rx="13.28" ry="13.28" fill="#3cf01e" opacity="0.54"/>
<ellipse cx="1320" cy="75" rx="11.4" ry="30.2" fill="#3cf01e" opacity="0.72"/>
<ellipse cx="1450" cy="110" rx="34.9" ry="18.92" fill="#3cf01e" opacity="0.72"/>
<ellipse cx="1520" cy="65" rx="11.4" ry="30.2" fill="#b09a1c" opacity="0.45"/>
<ellipse cx="1615" cy="115" rx="25.5" ry="15.16" fill="#3cf01e" opacity="0.45"/>
<ellipse cx="1660" cy="45" rx="18.92" ry="13.28" fill="#3cf01e" opacity="0.63"/>
<ellipse cx="1620" cy="295" rx="13.28" ry="30.2" fill="#3cf01e" opacity="0.54"/>
<ellipse cx="1660" cy="355" rx="13.28" ry="30.2" fill="#a6e220" opacity="0.45" transform="rotate(-20 1660 355)"/>
<ellipse cx="1320" cy="285" rx="13.28" ry="9.52" fill="#3cf01e" opacity="0.63"/>
<ellipse cx="1330" cy="490" rx="18.92" ry="13.28" fill="#3cf01e" opacity="0.72"/>
<ellipse cx="940" cy="490" rx="11.4" ry="34.9" fill="#a6e220" opacity="0.36"/>
<ellipse cx="1650" cy="1355" rx="13.28" ry="20.8" fill="#3cf01e" opacity="0.36"/>
<ellipse cx="150" cy="1665" rx="13.28" ry="13.28" fill="#a6e220" opacity="0.45"/>
<ellipse cx="1180" cy="1395" rx="11.4" ry="11.4" fill="#ff2600" opacity="0.63"/>
<ellipse cx="1165" cy="1380" rx="9.52" ry="9.52" fill="#ff2600" opacity="0.63"/>
<ellipse cx="885" cy="1410" rx="17.04" ry="11.4" fill="#ff2600" opacity="0.63"/>
<ellipse cx="1190" cy="1480" rx="13.28" ry="13.28" fill="#ff2600" opacity="0.54"/>
<ellipse cx="1440" cy="1465" rx="15.16" ry="15.16" fill="#ff2600" opacity="0.45"/>
<ellipse cx="1140" cy="1560" rx="11.4" ry="11.4" fill="#ff2600" opacity="0.54"/>
<ellipse cx="1190" cy="1640" rx="11.4" ry="11.4" fill="#ff2600" opacity="0.45"/>
<ellipse cx="305" cy="1660" rx="13.28" ry="13.28" fill="#ff2600" opacity="0.45"/>
<ellipse cx="380" cy="1645" rx="11.4" ry="11.4" fill="#ff2600" opacity="0.45"/>
<ellipse cx="360" cy="1510" rx="11.4" ry="11.4" fill="#ff2600" opacity="0.36"/>
<ellipse cx="140" cy="1435" rx="18.92" ry="18.92" fill="#ff2600" opacity="0.315"/>
<ellipse cx="740" cy="1430" rx="11.4" ry="11.4" fill="#ff2600" opacity="0.45"/>
<ellipse cx="960" cy="1215" rx="17.04" ry="13.28" fill="#ff3c00" opacity="0.63"/>
<ellipse cx="1000" cy="1250" rx="17.04" ry="17.04" fill="#ff5c0a" opacity="0.45"/>
<ellipse cx="1075" cy="1175" rx="13.28" ry="25.5" fill="#ff5c0a" opacity="0.54" transform="rotate(35 1075 1175)"/>
<ellipse cx="1145" cy="1170" rx="9.52" ry="20.8" fill="#e6c81e" opacity="0.36"/>
<ellipse cx="835" cy="1095" rx="13.28" ry="25.5" fill="#f58c14" opacity="0.54" transform="rotate(20 835 1095)"/>
<ellipse cx="795" cy="995" rx="13.28" ry="20.8" fill="#e6c81e" opacity="0.36"/>
<ellipse cx="880" cy="1130" rx="9.52" ry="17.04" fill="#3cf01e" opacity="0.36"/>
<ellipse cx="425" cy="730" rx="13.28" ry="18.92" fill="#f58c14" opacity="0.45"/>
<ellipse cx="390" cy="740" rx="11.4" ry="18.92" fill="#e6c81e" opacity="0.36"/>
<ellipse cx="200" cy="745" rx="25.5" ry="11.4" fill="#e6c81e" opacity="0.36" transform="rotate(-25 200 745)"/>
<ellipse cx="150" cy="795" rx="20.8" ry="9.52" fill="#e6c81e" opacity="0.27" transform="rotate(-30 150 795)"/>
<ellipse cx="330" cy="900" rx="15.16" ry="20.8" fill="#ff5c0a" opacity="0.45"/>
<ellipse cx="85" cy="940" rx="15.16" ry="15.16" fill="#a6e220" opacity="0.36"/>
<ellipse cx="15" cy="905" rx="9.52" ry="17.04" fill="#e6c81e" opacity="0.45"/>
<ellipse cx="110" cy="855" rx="20.8" ry="9.52" fill="#3cf01e" opacity="0.27" transform="rotate(20 110 855)"/>
<ellipse cx="350" cy="1190" rx="11.4" ry="18.92" fill="#f58c14" opacity="0.45"/>
<ellipse cx="320" cy="1240" rx="13.28" ry="13.28" fill="#ff5c0a" opacity="0.36"/>
<ellipse cx="60" cy="1100" rx="11.4" ry="17.04" fill="#3cf01e" opacity="0.27"/>
<ellipse cx="100" cy="1200" rx="9.52" ry="9.52" fill="#ff2600" opacity="0.27"/>
<ellipse cx="1110" cy="325" rx="15.16" ry="15.16" fill="#f58c14" opacity="0.45"/>
<ellipse cx="1185" cy="375" rx="13.28" ry="13.28" fill="#ff5c0a" opacity="0.36"/>
<ellipse cx="1340" cy="370" rx="11.4" ry="15.16" fill="#ff5c0a" opacity="0.45"/>
<ellipse cx="830" cy="375" rx="15.16" ry="15.16" fill="#f58c14" opacity="0.36"/>
<ellipse cx="890" cy="410" rx="9.52" ry="17.04" fill="#ff5c0a" opacity="0.36"/>
<ellipse cx="680" cy="455" rx="15.16" ry="15.16" fill="#ff3c00" opacity="0.36"/>
<ellipse cx="660" cy="420" rx="11.4" ry="11.4" fill="#3cf01e" opacity="0.27"/>
<ellipse cx="750" cy="525" rx="13.28" ry="9.52" fill="#ff2600" opacity="0.45"/>
<ellipse cx="220" cy="465" rx="13.28" ry="13.28" fill="#ff2600" opacity="0.36"/>
<ellipse cx="1440" cy="575" rx="15.16" ry="15.16" fill="#f58c14" opacity="0.36"/>
<ellipse cx="1240" cy="575" rx="11.4" ry="11.4" fill="#ff2600" opacity="0.36"/>
<ellipse cx="1545" cy="450" rx="9.52" ry="13.28" fill="#ff2600" opacity="0.45"/>
<ellipse cx="1675" cy="610" rx="11.4" ry="17.04" fill="#ff2600" opacity="0.36"/>
<ellipse cx="1515" cy="270" rx="13.28" ry="13.28" fill="#f58c14" opacity="0.45"/>
<ellipse cx="1585" cy="190" rx="13.28" ry="13.28" fill="#f58c14" opacity="0.36"/>
<ellipse cx="1465" cy="165" rx="11.4" ry="11.4" fill="#ff2600" opacity="0.45"/>
<ellipse cx="1500" cy="760" rx="13.28" ry="13.28" fill="#ff5c0a" opacity="0.54"/>
<ellipse cx="1140" cy="830" rx="11.4" ry="30.2" fill="#ff5c0a" opacity="0.36" transform="rotate(25 1140 830)"/>
<ellipse cx="1290" cy="900" rx="9.52" ry="20.8" fill="#e6c81e" opacity="0.45" transform="rotate(-20 1290 900)"/>
<ellipse cx="1495" cy="880" rx="9.52" ry="9.52" fill="#ff2600" opacity="0.45"/>
<ellipse cx="1480" cy="970" rx="9.52" ry="9.52" fill="#ff2600" opacity="0.27"/>
<ellipse cx="1520" cy="1195" rx="9.52" ry="9.52" fill="#ff2600" opacity="0.36"/>
<ellipse cx="430" cy="1455" rx="20.8" ry="13.28" fill="#a6e220" opacity="0.45"/>
<ellipse cx="520" cy="1300" rx="11.4" ry="11.4" fill="#3cf01e" opacity="0.27"/>
<ellipse cx="330" cy="1390" rx="11.4" ry="11.4" fill="#ff3c00" opacity="0.27"/>
<ellipse cx="610" cy="705" rx="11.4" ry="11.4" fill="#ff5c0a" opacity="0.36"/>
<ellipse cx="500" cy="570" rx="9.52" ry="20.8" fill="#e6c81e" opacity="0.27" transform="rotate(-30 500 570)"/>
<ellipse cx="80" cy="350" rx="15.16" ry="20.8" fill="#f58c14" opacity="0.36" transform="rotate(30 80 350)"/>
<ellipse cx="495" cy="20" rx="9.52" ry="15.16" fill="#a6e220" opacity="0.45"/>
<ellipse cx="140" cy="40" rx="11.4" ry="17.04" fill="#3cf01e" opacity="0.36"/>
<ellipse cx="1170" cy="690" rx="67.8" ry="2.68" fill="#ff2600" opacity="0.54" transform="rotate(-5 1170 690)"/>
<ellipse cx="1338" cy="560" rx="2.68" ry="49" fill="#ff2600" opacity="0.45" transform="rotate(5 1338 560)"/>
<ellipse cx="480" cy="1110" rx="2.68" ry="105.4" fill="#ff2600" opacity="0.45" transform="rotate(-25 480 1110)"/>
<ellipse cx="645" cy="1465" rx="2.68" ry="53.7" fill="#ff2600" opacity="0.45"/>
<ellipse cx="915" cy="1305" rx="67.8" ry="2.68" fill="#ff2600" opacity="0.45" transform="rotate(20 915 1305)"/>
<ellipse cx="1048" cy="755" rx="2.68" ry="34.9" fill="#ff2600" opacity="0.36"/>
<ellipse cx="1360" cy="190" rx="2.68" ry="39.6" fill="#ff2600" opacity="0.36" transform="rotate(-30 1360 190)"/>
</g></svg>
<svg x="1059.5" y="12.5" width="520.5" height="519.5" viewBox="0 0 520.5 519.5">
<rect x="0" y="0" width="520.5" height="519.5" fill="url(#bgC)"/>
<g transform="scale(0.30769)" filter="url(#glow)">
<ellipse cx="1155" cy="65" rx="34.9" ry="12.34" fill="#ff2600" opacity="1" transform="rotate(25 1155 65)"/>
<ellipse cx="1255" cy="120" rx="39.6" ry="10.46" fill="#ff2600" opacity="0.81" transform="rotate(35 1255 120)"/>
<ellipse cx="165" cy="410" rx="34.9" ry="9.52" fill="#ff2600" opacity="0.81" transform="rotate(15 165 410)"/>
<ellipse cx="360" cy="490" rx="25.5" ry="7.64" fill="#ff2600" opacity="0.72" transform="rotate(20 360 490)"/>
<ellipse cx="440" cy="525" rx="25.5" ry="6.7" fill="#ff2600" opacity="0.54" transform="rotate(20 440 525)"/>
<ellipse cx="1390" cy="605" rx="15.16" ry="34.9" fill="#ff2600" opacity="1" transform="rotate(-35 1390 605)"/>
<ellipse cx="1395" cy="635" rx="44.3" ry="11.4" fill="#ff2600" opacity="1" transform="rotate(10 1395 635)"/>
<ellipse cx="1640" cy="695" rx="39.6" ry="10.46" fill="#ff2600" opacity="1" transform="rotate(10 1640 695)"/>
<ellipse cx="1510" cy="668" rx="67.8" ry="4.02" fill="#ff2600" opacity="0.63" transform="rotate(8 1510 668)"/>
<ellipse cx="1205" cy="735" rx="11.4" ry="34.9" fill="#ff2600" opacity="0.81" transform="rotate(25 1205 735)"/>
<ellipse cx="990" cy="870" rx="22.68" ry="30.2" fill="#ff2600" opacity="1" transform="rotate(20 990 870)"/>
<ellipse cx="1135" cy="905" rx="25.5" ry="14.22" fill="#ff2600" opacity="1"/>
<ellipse cx="900" cy="880" rx="15.16" ry="18.92" fill="#ff2600" opacity="0.45"/>
<ellipse cx="1420" cy="855" rx="30.2" ry="12.34" fill="#ff2600" opacity="0.81" transform="rotate(-35 1420 855)"/>
<ellipse cx="1445" cy="790" rx="13.28" ry="34.9" fill="#a6e220" opacity="0.54" transform="rotate(25 1445 790)"/>
<ellipse cx="440" cy="935" rx="25.5" ry="14.22" fill="#ff2600" opacity="0.81" transform="rotate(20 440 935)"/>
<ellipse cx="440" cy="1048" rx="17.04" ry="17.04" fill="#ff2600" opacity="1"/>
<ellipse cx="540" cy="1045" rx="39.6" ry="17.04" fill="#ff5c0a" opacity="0.72"/>
<ellipse cx="565" cy="1048" rx="13.28" ry="13.28" fill="#ff5c0a" opacity="1"/>
<ellipse cx="680" cy="1425" rx="32.08" ry="30.2" fill="#ff2600" opacity="1"/>
<ellipse cx="650" cy="1500" rx="6.7" ry="39.6" fill="#ff2600" opacity="0.63" transform="rotate(5 650 1500)"/>
<ellipse cx="1070" cy="1440" rx="17.04" ry="28.32" fill="#ff2600" opacity="1" transform="rotate(-20 1070 1440)"/>
<ellipse cx="185" cy="1500" rx="39.6" ry="10.46" fill="#ff2600" opacity="0.81" transform="rotate(-15 185 1500)"/>
<ellipse cx="1675" cy="1495" rx="20.8" ry="11.4" fill="#ff2600" opacity="0.72" transform="rotate(-20 1675 1495)"/>
<ellipse cx="1415" cy="275" rx="20.8" ry="20.8" fill="#ff5c0a" opacity="0.81"/>
<ellipse cx="860" cy="270" rx="15.16" ry="15.16" fill="#ff2600" opacity="0.72"/>
<ellipse cx="800" cy="320" rx="17.04" ry="13.28" fill="#ff5c0a" opacity="0.54"/>
<ellipse cx="1350" cy="1035" rx="13.28" ry="13.28" fill="#ff2600" opacity="0.81"/>
<ellipse cx="1350" cy="1090" rx="11.4" ry="30.2" fill="#f58c14" opacity="0.63" transform="rotate(15 1350 1090)"/>
<ellipse cx="200" cy="930" rx="15.16" ry="15.16" fill="#ff5c0a" opacity="0.72"/>
<ellipse cx="285" cy="1170" rx="15.16" ry="15.16" fill="#f58c14" opacity="0.81"/>
<ellipse cx="335" cy="1195" rx="15.16" ry="15.16" fill="#ff5c0a" opacity="0.54"/>
<ellipse cx="310" cy="1230" rx="15.16" ry="15.16" fill="#ff5c0a" opacity="0.45"/>
<ellipse cx="280" cy="585" rx="15.16" ry="15.16" fill="#ff5c0a" opacity="0.54"/>
<ellipse cx="95" cy="615" rx="15.16" ry="15.16" fill="#f58c14" opacity="0.45"/>
<ellipse cx="300" cy="110" rx="13.28" ry="13.28" fill="#ff5c0a" opacity="0.54"/>
<ellipse cx="175" cy="215" rx="13.28" ry="13.28" fill="#ff3c00" opacity="0.54"/>
<ellipse cx="495" cy="205" rx="15.16" ry="20.8" fill="#ff5c0a" opacity="0.54"/>
<ellipse cx="630" cy="145" rx="13.28" ry="18.92" fill="#ff5c0a" opacity="0.63"/>
<ellipse cx="895" cy="50" rx="17.04" ry="13.28" fill="#f58c14" opacity="0.72"/>
<ellipse cx="745" cy="45" rx="11.4" ry="11.4" fill="#ff2600" opacity="0.36"/>
<ellipse cx="180" cy="50" rx="17.04" ry="17.04" fill="#3cf01e" opacity="1"/>
<ellipse cx="235" cy="80" rx="18.92" ry="25.5" fill="#3cf01e" opacity="0.72"/>
<ellipse cx="345" cy="40" rx="11.4" ry="17.04" fill="#3cf01e" opacity="0.54"/>
<ellipse cx="215" cy="185" rx="15.16" ry="11.4" fill="#3cf01e" opacity="0.63"/>
<ellipse cx="530" cy="180" rx="13.28" ry="25.5" fill="#3cf01e" opacity="0.72" transform="rotate(20 530 180)"/>
<ellipse cx="660" cy="80" rx="13.28" ry="28.32" fill="#3cf01e" opacity="0.63" transform="rotate(-10 660 80)"/>
<ellipse cx="680" cy="130" rx="11.4" ry="11.4" fill="#3cf01e" opacity="0.45"/>
<ellipse cx="545" cy="235" rx="11.4" ry="11.4" fill="#3cf01e" opacity="0.45"/>
<ellipse cx="765" cy="215" rx="34.9" ry="20.8" fill="#3cf01e" opacity="0.72"/>
<ellipse cx="750" cy="260" rx="9.52" ry="20.8" fill="#3cf01e" opacity="0.45"/>
<ellipse cx="710" cy="295" rx="15.16" ry="11.4" fill="#3cf01e" opacity="0.72"/>
<ellipse cx="645" cy="290" rx="13.28" ry="13.28" fill="#a6e220" opacity="0.36"/>
<ellipse cx="630" cy="240" rx="15.16" ry="9.52" fill="#3cf01e" opacity="0.36"/>
<ellipse cx="1000" cy="340" rx="22.68" ry="18.92" fill="#3cf01e" opacity="0.81"/>
<ellipse cx="930" cy="365" rx="15.16" ry="9.52" fill="#3cf01e" opacity="0.63"/>
<ellipse cx="1110" cy="325" rx="15.16" ry="15.16" fill="#a6e220" opacity="0.63"/>
<ellipse cx="1315" cy="80" rx="13.28" ry="30.2" fill="#3cf01e" opacity="1"/>
<ellipse cx="1455" cy="110" rx="30.2" ry="20.8" fill="#3cf01e" opacity="1"/>
<ellipse cx="1510" cy="65" rx="13.28" ry="30.2" fill="#a6e220" opacity="0.54"/>
<ellipse cx="1660" cy="40" rx="20.8" ry="17.04" fill="#3cf01e" opacity="1"/>
<ellipse cx="1620" cy="110" rx="20.8" ry="15.16" fill="#a6e220" opacity="0.54"/>
<ellipse cx="1575" cy="75" rx="15.16" ry="18.92" fill="#f58c14" opacity="0.45"/>
<ellipse cx="1595" cy="185" rx="17.04" ry="11.4" fill="#3cf01e" opacity="0.54"/>
<ellipse cx="1615" cy="300" rx="15.16" ry="28.32" fill="#a6e220" opacity="0.72"/>
<ellipse cx="1655" cy="355" rx="11.4" ry="25.5" fill="#e6c81e" opacity="0.45" transform="rotate(-25 1655 355)"/>
<ellipse cx="1320" cy="285" rx="15.16" ry="9.52" fill="#3cf01e" opacity="0.63"/>
<ellipse cx="1300" cy="270" rx="11.4" ry="11.4" fill="#e6c81e" opacity="0.45"/>
<ellipse cx="1335" cy="500" rx="17.04" ry="22.68" fill="#3cf01e" opacity="0.81" transform="rotate(-20 1335 500)"/>
<ellipse cx="940" cy="490" rx="11.4" ry="34.9" fill="#a6e220" opacity="0.45"/>
<ellipse cx="400" cy="428" rx="34.9" ry="11.4" fill="#3cf01e" opacity="0.81" transform="rotate(-5 400 428)"/>
<ellipse cx="660" cy="415" rx="18.92" ry="11.4" fill="#3cf01e" opacity="0.36"/>
<ellipse cx="670" cy="450" rx="15.16" ry="15.16" fill="#ff3c00" opacity="0.36"/>
<ellipse cx="740" cy="520" rx="18.92" ry="15.16" fill="#3cf01e" opacity="1"/>
<ellipse cx="640" cy="580" rx="30.2" ry="17.04" fill="#f58c14" opacity="0.81" transform="rotate(-30 640 580)"/>
<ellipse cx="340" cy="620" rx="34.9" ry="13.28" fill="#3cf01e" opacity="0.72" transform="rotate(-15 340 620)"/>
<ellipse cx="490" cy="580" rx="9.52" ry="20.8" fill="#a6e220" opacity="0.36" transform="rotate(-30 490 580)"/>
<ellipse cx="1170" cy="620" rx="18.92" ry="17.04" fill="#a6e220" opacity="0.72"/>
<ellipse cx="1160" cy="555" rx="30.2" ry="13.28" fill="#f58c14" opacity="0.72" transform="rotate(-20 1160 555)"/>
<ellipse cx="980" cy="605" rx="11.4" ry="25.5" fill="#e6c81e" opacity="0.54" transform="rotate(30 980 605)"/>
<ellipse cx="1015" cy="665" rx="17.04" ry="13.28" fill="#ff5c0a" opacity="0.63"/>
<ellipse cx="1050" cy="715" rx="20.8" ry="17.04" fill="#a6e220" opacity="1"/>
<ellipse cx="1215" cy="690" rx="15.16" ry="15.16" fill="#3cf01e" opacity="0.72"/>
<ellipse cx="1290" cy="770" rx="20.8" ry="18.92" fill="#3cf01e" opacity="0.72"/>
<ellipse cx="1305" cy="750" rx="9.52" ry="20.8" fill="#3cf01e" opacity="0.63"/>
<ellipse cx="1430" cy="770" rx="20.8" ry="11.4" fill="#3cf01e" opacity="0.45"/>
<ellipse cx="1495" cy="750" rx="17.04" ry="17.04" fill="#ff5c0a" opacity="0.72"/>
<ellipse cx="1555" cy="850" rx="11.4" ry="22.68" fill="#e6c81e" opacity="0.63"/>
<ellipse cx="1290" cy="910" rx="9.52" ry="25.5" fill="#a6e220" opacity="0.54" transform="rotate(-25 1290 910)"/>
<ellipse cx="1030" cy="860" rx="13.28" ry="13.28" fill="#f58c14" opacity="0.63"/>
<ellipse cx="1210" cy="995" rx="25.5" ry="30.2" fill="#3cf01e" opacity="0.72"/>
<ellipse cx="1195" cy="990" rx="11.4" ry="11.4" fill="#e6c81e" opacity="0.54"/>
<ellipse cx="1180" cy="1245" rx="18.92" ry="25.5" fill="#3cf01e" opacity="0.81"/>
<ellipse cx="1425" cy="1170" rx="17.04" ry="20.8" fill="#3cf01e" opacity="0.36"/>
<ellipse cx="1245" cy="1125" rx="13.28" ry="13.28" fill="#e6c81e" opacity="0.72"/>
<ellipse cx="1170" cy="1100" rx="9.52" ry="9.52" fill="#ff2600" opacity="0.36"/>
<ellipse cx="835" cy="1095" rx="13.28" ry="25.5" fill="#a6e220" opacity="0.63" transform="rotate(20 835 1095)"/>
<ellipse cx="875" cy="1125" rx="9.52" ry="18.92" fill="#3cf01e" opacity="0.45"/>
<ellipse cx="790" cy="995" rx="13.28" ry="22.68" fill="#a6e220" opacity="0.45"/>
<ellipse cx="440" cy="1200" rx="13.28" ry="34.9" fill="#3cf01e" opacity="0.54" transform="rotate(-15 440 1200)"/>
<ellipse cx="465" cy="1225" rx="20.8" ry="11.4" fill="#3cf01e" opacity="0.63"/>
<ellipse cx="510" cy="1600" rx="15.16" ry="15.16" fill="#a6e220" opacity="1"/>
<ellipse cx="1040" cy="1645" rx="13.28" ry="13.28" fill="#a6e220" opacity="1"/>
<ellipse cx="150" cy="1660" rx="11.4" ry="25.5" fill="#3cf01e" opacity="0.72" transform="rotate(25 150 1660)"/>
<ellipse cx="40" cy="1535" rx="34.9" ry="11.4" fill="#a6e220" opacity="0.54" transform="rotate(-25 40 1535)"/>
<ellipse cx="380" cy="1650" rx="9.52" ry="20.8" fill="#3cf01e" opacity="0.27"/>
<ellipse cx="185" cy="745" rx="34.9" ry="11.4" fill="#3cf01e" opacity="0.45" transform="rotate(-25 185 745)"/>
<ellipse cx="115" cy="820" rx="25.5" ry="11.4" fill="#3cf01e" opacity="0.45" transform="rotate(-40 115 820)"/>
<ellipse cx="365" cy="740" rx="13.28" ry="11.4" fill="#3cf01e" opacity="0.54"/>
<ellipse cx="430" cy="735" rx="13.28" ry="20.8" fill="#f58c14" opacity="0.45"/>
<ellipse cx="395" cy="770" rx="9.52" ry="18.92" fill="#f58c14" opacity="0.36"/>
<ellipse cx="510" cy="735" rx="13.28" ry="17.04" fill="#ff5c0a" opacity="0.27"/>
<ellipse cx="240" cy="840" rx="11.4" ry="18.92" fill="#a6e220" opacity="0.27"/>
<ellipse cx="75" cy="940" rx="18.92" ry="11.4" fill="#a6e220" opacity="0.36"/>
<ellipse cx="0" cy="885" rx="9.52" ry="17.04" fill="#3cf01e" opacity="0.54"/>
<ellipse cx="50" cy="1100" rx="13.28" ry="17.04" fill="#3cf01e" opacity="0.27"/>
<ellipse cx="10" cy="1140" rx="11.4" ry="11.4" fill="#3cf01e" opacity="0.27"/>
<ellipse cx="1070" cy="1170" rx="13.28" ry="28.32" fill="#f58c14" opacity="0.54" transform="rotate(30 1070 1170)"/>
<ellipse cx="1135" cy="1170" rx="9.52" ry="20.8" fill="#e6c81e" opacity="0.36"/>
<ellipse cx="980" cy="1245" rx="15.16" ry="11.4" fill="#f58c14" opacity="0.54"/>
<ellipse cx="1560" cy="1045" rx="13.28" ry="18.92" fill="#ff2600" opacity="0.36"/>
<ellipse cx="1565" cy="1085" rx="9.52" ry="9.52" fill="#ff2600" opacity="0.36"/>
<ellipse cx="1520" cy="1190" rx="9.52" ry="9.52" fill="#ff2600" opacity="0.36"/>
<ellipse cx="1490" cy="880" rx="9.52" ry="9.52" fill="#ff2600" opacity="0.36"/>
<ellipse cx="1185" cy="375" rx="13.28" ry="13.28" fill="#ff5c0a" opacity="0.45"/>
<ellipse cx="1340" cy="365" rx="11.4" ry="15.16" fill="#ff5c0a" opacity="0.45"/>
<ellipse cx="880" cy="410" rx="11.4" ry="18.92" fill="#ff5c0a" opacity="0.36"/>
<ellipse cx="1100" cy="460" rx="13.28" ry="13.28" fill="#ff5c0a" opacity="0.27"/>
<ellipse cx="1540" cy="440" rx="9.52" ry="15.16" fill="#ff2600" opacity="0.36"/>
<ellipse cx="1290" cy="535" rx="15.16" ry="15.16" fill="#ff3c00" opacity="0.45"/>
<ellipse cx="1430" cy="575" rx="15.16" ry="18.92" fill="#f58c14" opacity="0.45"/>
<ellipse cx="1335" cy="690" rx="13.28" ry="13.28" fill="#ff5c0a" opacity="0.45"/>
<ellipse cx="1675" cy="610" rx="11.4" ry="17.04" fill="#a6e220" opacity="0.36"/>
<ellipse cx="1510" cy="270" rx="13.28" ry="11.4" fill="#ff5c0a" opacity="0.45"/>
<ellipse cx="520" cy="1295" rx="11.4" ry="11.4" fill="#ff3c00" opacity="0.36"/>
<ellipse cx="560" cy="1355" rx="11.4" ry="11.4" fill="#ff5c0a" opacity="0.36"/>
<ellipse cx="315" cy="1385" rx="9.52" ry="9.52" fill="#e6c81e" opacity="0.36"/>
<ellipse cx="135" cy="1430" rx="18.92" ry="18.92" fill="#ff2600" opacity="0.315"/>
<ellipse cx="420" cy="1455" rx="17.04" ry="11.4" fill="#f58c14" opacity="0.54"/>
<ellipse cx="350" cy="1510" rx="9.52" ry="9.52" fill="#ff2600" opacity="0.27"/>
<ellipse cx="740" cy="1430" rx="13.28" ry="13.28" fill="#ff2600" opacity="0.36"/>
<ellipse cx="885" cy="1405" rx="9.52" ry="9.52" fill="#ff2600" opacity="0.27"/>
<ellipse cx="965" cy="1440" rx="9.52" ry="9.52" fill="#ff2600" opacity="0.27"/>
<ellipse cx="1165" cy="1380" rx="9.52" ry="9.52" fill="#ff2600" opacity="0.36"/>
<ellipse cx="1440" cy="1460" rx="15.16" ry="15.16" fill="#ff2600" opacity="0.315"/>
<ellipse cx="1160" cy="1495" rx="11.4" ry="11.4" fill="#ff2600" opacity="0.36"/>
<ellipse cx="1140" cy="1560" rx="11.4" ry="11.4" fill="#ff2600" opacity="0.45"/>
<ellipse cx="1180" cy="1640" rx="11.4" ry="11.4" fill="#ff2600" opacity="0.27"/>
<ellipse cx="300" cy="1665" rx="13.28" ry="13.28" fill="#ff2600" opacity="0.36"/>
<ellipse cx="1630" cy="1345" rx="13.28" ry="17.04" fill="#a6e220" opacity="0.36"/>
<ellipse cx="75" cy="355" rx="9.52" ry="9.52" fill="#ff2600" opacity="0.45"/>
<ellipse cx="330" cy="515" rx="9.52" ry="9.52" fill="#ff3c00" opacity="0.45"/>
<ellipse cx="785" cy="885" rx="15.16" ry="9.52" fill="#ff2600" opacity="0.36"/>
<ellipse cx="1130" cy="840" rx="13.28" ry="13.28" fill="#ff2600" opacity="0.27"/>
<ellipse cx="960" cy="1040" rx="9.52" ry="9.52" fill="#ff2600" opacity="0.27"/>
<ellipse cx="1010" cy="1060" rx="9.52" ry="9.52" fill="#ff2600" opacity="0.27"/>
<ellipse cx="540" cy="1405" rx="96" ry="2.68" fill="#ff2600" opacity="0.45" transform="rotate(-3 540 1405)"/>
<ellipse cx="320" cy="1455" rx="105.4" ry="2.68" fill="#ff2600" opacity="0.45" transform="rotate(-18 320 1455)"/>
<ellipse cx="1335" cy="195" rx="2.68" ry="53.7" fill="#ff2600" opacity="0.36" transform="rotate(-35 1335 195)"/>
<ellipse cx="260" cy="450" rx="96" ry="2.68" fill="#ff2600" opacity="0.36" transform="rotate(20 260 450)"/>
</g></svg>
<svg x="1583.5" y="12.5" width="520.5" height="519.5" viewBox="0 0 520.5 519.5">
<rect x="0" y="0" width="520.5" height="519.5" fill="url(#bgD)"/>
<g transform="scale(0.30769)" filter="url(#glow)">
<ellipse cx="1015" cy="85" rx="10.46" ry="58.4" fill="#ff2600" opacity="0.81"/>
<ellipse cx="1010" cy="200" rx="4.02" ry="58.4" fill="#ff2600" opacity="0.45"/>
<ellipse cx="1300" cy="45" rx="20.8" ry="20.8" fill="#ff2600" opacity="1"/>
<ellipse cx="1350" cy="100" rx="30.2" ry="5.36" fill="#ff2600" opacity="0.54" transform="rotate(30 1350 100)"/>
<ellipse cx="1240" cy="15" rx="20.8" ry="7.64" fill="#ff2600" opacity="0.63" transform="rotate(20 1240 15)"/>
<ellipse cx="1125" cy="185" rx="15.16" ry="13.28" fill="#ff2600" opacity="0.81"/>
<ellipse cx="1415" cy="240" rx="22.68" ry="22.68" fill="#ff3c00" opacity="1"/>
<ellipse cx="855" cy="240" rx="15.16" ry="15.16" fill="#ff2600" opacity="0.81"/>
<ellipse cx="800" cy="285" rx="17.04" ry="13.28" fill="#ff5c0a" opacity="0.54"/>
<ellipse cx="795" cy="240" rx="15.16" ry="15.16" fill="#ff5c0a" opacity="0.36"/>
<ellipse cx="180" cy="335" rx="30.2" ry="12.34" fill="#ff2600" opacity="0.54" transform="rotate(40 180 335)"/>
<ellipse cx="340" cy="440" rx="17.04" ry="11.4" fill="#ff2600" opacity="0.72"/>
<ellipse cx="400" cy="485" rx="30.2" ry="5.36" fill="#ff2600" opacity="0.45" transform="rotate(30 400 485)"/>
<ellipse cx="280" cy="470" rx="13.28" ry="13.28" fill="#ff2600" opacity="0.45"/>
<ellipse cx="275" cy="550" rx="17.04" ry="17.04" fill="#ff2600" opacity="0.72"/>
<ellipse cx="95" cy="585" rx="15.16" ry="15.16" fill="#ff5c0a" opacity="0.63"/>
<ellipse cx="210" cy="650" rx="17.04" ry="17.04" fill="#ff2600" opacity="0.27"/>
<ellipse cx="1410" cy="615" rx="30.2" ry="22.68" fill="#ff2600" opacity="1"/>
<ellipse cx="1455" cy="630" rx="13.28" ry="13.28" fill="#ff3c00" opacity="0.72"/>
<ellipse cx="1620" cy="665" rx="58.4" ry="10.46" fill="#ff2600" opacity="1" transform="rotate(-3 1620 665)"/>
<ellipse cx="1480" cy="668" rx="67.8" ry="4.02" fill="#ff2600" opacity="0.54"/>
<ellipse cx="1490" cy="700" rx="15.16" ry="13.28" fill="#ff2600" opacity="0.81"/>
<ellipse cx="1500" cy="715" rx="13.28" ry="13.28" fill="#e6c81e" opacity="0.72"/>
<ellipse cx="780" cy="865" rx="44.3" ry="14.22" fill="#ff2600" opacity="0.81" transform="rotate(15 780 865)"/>
<ellipse cx="700" cy="860" rx="30.2" ry="5.36" fill="#ff2600" opacity="0.54" transform="rotate(10 700 860)"/>
<ellipse cx="905" cy="860" rx="15.16" ry="15.16" fill="#ff2600" opacity="0.54"/>
<ellipse cx="940" cy="910" rx="58.4" ry="2.68" fill="#ff2600" opacity="0.36" transform="rotate(15 940 910)"/>
<ellipse cx="420" cy="945" rx="20.8" ry="20.8" fill="#ff2600" opacity="1"/>
<ellipse cx="475" cy="1045" rx="15.16" ry="15.16" fill="#ff2600" opacity="1"/>
<ellipse cx="540" cy="1005" rx="39.6" ry="22.68" fill="#ff5c0a" opacity="0.72" transform="rotate(20 540 1005)"/>
<ellipse cx="565" cy="1015" rx="13.28" ry="13.28" fill="#ff5c0a" opacity="0.81"/>
<ellipse cx="955" cy="1045" rx="20.8" ry="22.68" fill="#ff2600" opacity="1"/>
<ellipse cx="1025" cy="1025" rx="30.2" ry="9.52" fill="#ff2600" opacity="0.81" transform="rotate(-35 1025 1025)"/>
<ellipse cx="900" cy="1130" rx="49" ry="2.68" fill="#ff2600" opacity="0.45" transform="rotate(-40 900 1130)"/>
<ellipse cx="1070" cy="970" rx="20.8" ry="2.68" fill="#ff2600" opacity="0.36" transform="rotate(-50 1070 970)"/>
<ellipse cx="1350" cy="1005" rx="17.04" ry="30.2" fill="#ff2600" opacity="1"/>
<ellipse cx="1350" cy="1065" rx="11.4" ry="20.8" fill="#f58c14" opacity="0.72" transform="rotate(15 1350 1065)"/>
<ellipse cx="1055" cy="1130" rx="15.16" ry="15.16" fill="#ff2600" opacity="0.81"/>
<ellipse cx="830" cy="1055" rx="17.04" ry="17.04" fill="#f58c14" opacity="0.63"/>
<ellipse cx="1240" cy="1085" rx="13.28" ry="13.28" fill="#f58c14" opacity="0.72"/>
<ellipse cx="285" cy="1135" rx="18.92" ry="18.92" fill="#ff5c0a" opacity="0.72"/>
<ellipse cx="345" cy="1160" rx="17.04" ry="13.28" fill="#ff5c0a" opacity="0.54"/>
<ellipse cx="310" cy="1195" rx="13.28" ry="13.28" fill="#ff3c00" opacity="0.72"/>
<ellipse cx="660" cy="1350" rx="15.16" ry="15.16" fill="#ff2600" opacity="0.81"/>
<ellipse cx="880" cy="1450" rx="24.56" ry="24.56" fill="#ff2600" opacity="1"/>
<ellipse cx="1105" cy="1480" rx="22.68" ry="18.92" fill="#ff2600" opacity="1"/>
<ellipse cx="1135" cy="1525" rx="11.4" ry="11.4" fill="#ff2600" opacity="0.45"/>
<ellipse cx="395" cy="1500" rx="34.9" ry="12.34" fill="#ff2600" opacity="0.81" transform="rotate(-25 395 1500)"/>
<ellipse cx="470" cy="1490" rx="20.8" ry="4.02" fill="#ff2600" opacity="0.45"/>
<ellipse cx="490" cy="180" rx="15.16" ry="25.5" fill="#ff3c00" opacity="0.72" transform="rotate(15 490 180)"/>
<ellipse cx="525" cy="150" rx="11.4" ry="25.5" fill="#3cf01e" opacity="0.63" transform="rotate(20 525 150)"/>
<ellipse cx="630" cy="110" rx="13.28" ry="20.8" fill="#ff5c0a" opacity="0.63"/>
<ellipse cx="290" cy="75" rx="13.28" ry="13.28" fill="#ff5c0a" opacity="0.63"/>
<ellipse cx="1555" cy="810" rx="13.28" ry="20.8" fill="#f58c14" opacity="0.63"/>
<ellipse cx="205" cy="910" rx="13.28" ry="25.5" fill="#f58c14" opacity="0.63"/>
<ellipse cx="20" cy="880" rx="15.16" ry="15.16" fill="#a6e220" opacity="0.54"/>
<ellipse cx="430" cy="700" rx="15.16" ry="18.92" fill="#f58c14" opacity="0.54"/>
<ellipse cx="640" cy="545" rx="25.5" ry="17.04" fill="#e6c81e" opacity="1" transform="rotate(-25 640 545)"/>
<ellipse cx="1230" cy="660" rx="15.16" ry="18.92" fill="#e6c81e" opacity="0.81"/>
<ellipse cx="1340" cy="655" rx="13.28" ry="13.28" fill="#f58c14" opacity="0.45"/>
<ellipse cx="1100" cy="530" rx="34.9" ry="14.22" fill="#a6e220" opacity="0.72" transform="rotate(-15 1100 530)"/>
<ellipse cx="1180" cy="515" rx="49" ry="2.68" fill="#ff2600" opacity="0.27" transform="rotate(-5 1180 515)"/>
<ellipse cx="1170" cy="590" rx="22.68" ry="13.28" fill="#a6e220" opacity="0.63"/>
<ellipse cx="1075" cy="645" rx="15.16" ry="22.68" fill="#a6e220" opacity="0.81"/>
<ellipse cx="1000" cy="600" rx="15.16" ry="15.16" fill="#ff5c0a" opacity="0.36"/>
<ellipse cx="190" cy="15" rx="18.92" ry="13.28" fill="#3cf01e" opacity="1"/>
<ellipse cx="230" cy="55" rx="20.8" ry="25.5" fill="#3cf01e" opacity="0.63"/>
<ellipse cx="665" cy="45" rx="13.28" ry="30.2" fill="#3cf01e" opacity="0.54" transform="rotate(-10 665 45)"/>
<ellipse cx="680" cy="95" rx="9.52" ry="9.52" fill="#3cf01e" opacity="0.36"/>
<ellipse cx="760" cy="180" rx="34.9" ry="25.5" fill="#3cf01e" opacity="0.72"/>
<ellipse cx="810" cy="160" rx="20.8" ry="7.64" fill="#3cf01e" opacity="0.54" transform="rotate(-20 810 160)"/>
<ellipse cx="745" cy="215" rx="9.52" ry="20.8" fill="#3cf01e" opacity="0.45"/>
<ellipse cx="705" cy="255" rx="13.28" ry="17.04" fill="#a6e220" opacity="0.54"/>
<ellipse cx="525" cy="215" rx="13.28" ry="9.52" fill="#3cf01e" opacity="0.45"/>
<ellipse cx="225" cy="165" rx="13.28" ry="9.52" fill="#3cf01e" opacity="0.45"/>
<ellipse cx="1320" cy="125" rx="15.16" ry="30.2" fill="#3cf01e" opacity="1"/>
<ellipse cx="1465" cy="85" rx="25.5" ry="34.9" fill="#3cf01e" opacity="0.54"/>
<ellipse cx="1510" cy="45" rx="13.28" ry="25.5" fill="#a6e220" opacity="0.45"/>
<ellipse cx="1620" cy="75" rx="25.5" ry="18.92" fill="#a6e220" opacity="0.45"/>
<ellipse cx="1665" cy="10" rx="18.92" ry="11.4" fill="#3cf01e" opacity="1"/>
<ellipse cx="1590" cy="150" rx="18.92" ry="11.4" fill="#3cf01e" opacity="0.54"/>
<ellipse cx="1570" cy="40" rx="11.4" ry="20.8" fill="#ff5c0a" opacity="0.45"/>
<ellipse cx="1610" cy="260" rx="15.16" ry="22.68" fill="#a6e220" opacity="0.81"/>
<ellipse cx="1640" cy="305" rx="20.8" ry="11.4" fill="#e6c81e" opacity="0.45" transform="rotate(40 1640 305)"/>
<ellipse cx="1685" cy="390" rx="7.64" ry="39.6" fill="#ff2600" opacity="0.63" transform="rotate(15 1685 390)"/>
<ellipse cx="1310" cy="245" rx="20.8" ry="9.52" fill="#a6e220" opacity="0.45" transform="rotate(15 1310 245)"/>
<ellipse cx="1345" cy="505" rx="15.16" ry="22.68" fill="#3cf01e" opacity="1"/>
<ellipse cx="1685" cy="575" rx="11.4" ry="20.8" fill="#3cf01e" opacity="0.81"/>
<ellipse cx="995" cy="310" rx="17.04" ry="22.68" fill="#a6e220" opacity="0.63"/>
<ellipse cx="925" cy="330" rx="15.16" ry="9.52" fill="#3cf01e" opacity="0.45"/>
<ellipse cx="1105" cy="285" rx="15.16" ry="15.16" fill="#f58c14" opacity="0.54"/>
<ellipse cx="880" cy="370" rx="11.4" ry="17.04" fill="#ff5c0a" opacity="0.36"/>
<ellipse cx="425" cy="370" rx="17.04" ry="17.04" fill="#3cf01e" opacity="0.54"/>
<ellipse cx="645" cy="385" rx="22.68" ry="13.28" fill="#3cf01e" opacity="0.72"/>
<ellipse cx="665" cy="415" rx="15.16" ry="15.16" fill="#ff3c00" opacity="0.36"/>
<ellipse cx="760" cy="490" rx="20.8" ry="17.04" fill="#3cf01e" opacity="1"/>
<ellipse cx="935" cy="420" rx="15.16" ry="11.4" fill="#a6e220" opacity="0.45"/>
<ellipse cx="340" cy="583" rx="34.9" ry="13.28" fill="#a6e220" opacity="0.72" transform="rotate(-10 340 583)"/>
<ellipse cx="495" cy="560" rx="13.28" ry="20.8" fill="#a6e220" opacity="0.36" transform="rotate(-20 495 560)"/>
<ellipse cx="170" cy="715" rx="39.6" ry="11.4" fill="#a6e220" opacity="0.54" transform="rotate(-20 170 715)"/>
<ellipse cx="135" cy="765" rx="25.5" ry="9.52" fill="#ff5c0a" opacity="0.36" transform="rotate(-30 135 765)"/>
<ellipse cx="365" cy="705" rx="13.28" ry="15.16" fill="#3cf01e" opacity="0.45"/>
<ellipse cx="390" cy="725" rx="9.52" ry="17.04" fill="#ff5c0a" opacity="0.45"/>
<ellipse cx="250" cy="800" rx="15.16" ry="18.92" fill="#3cf01e" opacity="0.54"/>
<ellipse cx="1295" cy="735" rx="25.5" ry="22.68" fill="#a6e220" opacity="0.72"/>
<ellipse cx="1270" cy="740" rx="11.4" ry="11.4" fill="#e6c81e" opacity="0.54"/>
<ellipse cx="1425" cy="735" rx="18.92" ry="11.4" fill="#3cf01e" opacity="0.45"/>
<ellipse cx="1445" cy="770" rx="13.28" ry="34.9" fill="#a6e220" opacity="0.54" transform="rotate(30 1445 770)"/>
<ellipse cx="1295" cy="880" rx="11.4" ry="30.2" fill="#a6e220" opacity="0.63" transform="rotate(-25 1295 880)"/>
<ellipse cx="1200" cy="950" rx="18.92" ry="25.5" fill="#f58c14" opacity="0.45"/>
<ellipse cx="1195" cy="1015" rx="9.52" ry="30.2" fill="#3cf01e" opacity="0.63" transform="rotate(25 1195 1015)"/>
<ellipse cx="880" cy="1085" rx="11.4" ry="22.68" fill="#3cf01e" opacity="0.45"/>
<ellipse cx="785" cy="960" rx="13.28" ry="25.5" fill="#f58c14" opacity="0.36"/>
<ellipse cx="465" cy="1190" rx="39.6" ry="13.28" fill="#3cf01e" opacity="0.72" transform="rotate(-20 465 1190)"/>
<ellipse cx="530" cy="1165" rx="13.28" ry="5.36" fill="#3cf01e" opacity="0.54" transform="rotate(-30 530 1165)"/>
<ellipse cx="1170" cy="1215" rx="20.8" ry="25.5" fill="#3cf01e" opacity="0.72"/>
<ellipse cx="1430" cy="1145" rx="15.16" ry="20.8" fill="#3cf01e" opacity="0.45"/>
<ellipse cx="1140" cy="1150" rx="9.52" ry="17.04" fill="#e6c81e" opacity="0.36"/>
<ellipse cx="505" cy="1565" rx="15.16" ry="17.04" fill="#3cf01e" opacity="1"/>
<ellipse cx="1040" cy="1610" rx="11.4" ry="11.4" fill="#a6e220" opacity="1"/>
<ellipse cx="130" cy="1645" rx="13.28" ry="34.9" fill="#3cf01e" opacity="0.81" transform="rotate(30 130 1645)"/>
<ellipse cx="30" cy="1505" rx="30.2" ry="15.16" fill="#a6e220" opacity="0.63" transform="rotate(-25 30 1505)"/>
<ellipse cx="415" cy="1420" rx="20.8" ry="13.28" fill="#f58c14" opacity="0.45"/>
<ellipse cx="310" cy="1355" rx="13.28" ry="13.28" fill="#e6c81e" opacity="0.27"/>
<ellipse cx="140" cy="1390" rx="18.92" ry="18.92" fill="#ff2600" opacity="0.36"/>
<ellipse cx="570" cy="1305" rx="11.4" ry="11.4" fill="#ff5c0a" opacity="0.36"/>
<ellipse cx="60" cy="1075" rx="13.28" ry="17.04" fill="#3cf01e" opacity="0.27"/>
<ellipse cx="0" cy="1100" rx="11.4" ry="11.4" fill="#3cf01e" opacity="0.36"/>
<ellipse cx="1560" cy="1010" rx="13.28" ry="18.92" fill="#ff2600" opacity="0.45"/>
<ellipse cx="1555" cy="1050" rx="11.4" ry="11.4" fill="#ff2600" opacity="0.45"/>
<ellipse cx="1520" cy="1155" rx="9.52" ry="9.52" fill="#ff2600" opacity="0.45"/>
<ellipse cx="1490" cy="850" rx="9.52" ry="9.52" fill="#ff2600" opacity="0.45"/>
<ellipse cx="1440" cy="1425" rx="15.16" ry="15.16" fill="#ff2600" opacity="0.36"/>
<ellipse cx="1160" cy="1045" rx="9.52" ry="9.52" fill="#ff2600" opacity="0.36"/>
<ellipse cx="975" cy="1210" rx="11.4" ry="11.4" fill="#ff5c0a" opacity="0.45"/>
<ellipse cx="950" cy="1170" rx="9.52" ry="9.52" fill="#e6c81e" opacity="0.36"/>
<ellipse cx="1180" cy="1605" rx="11.4" ry="11.4" fill="#ff2600" opacity="0.36"/>
<ellipse cx="300" cy="1620" rx="13.28" ry="13.28" fill="#ff2600" opacity="0.45"/>
<ellipse cx="380" cy="1620" rx="11.4" ry="11.4" fill="#ff2600" opacity="0.36"/>
<ellipse cx="1680" cy="1660" rx="15.16" ry="15.16" fill="#ff3c00" opacity="0.36"/>
<ellipse cx="1620" cy="1320" rx="11.4" ry="11.4" fill="#ff2600" opacity="0.18"/>
<ellipse cx="740" cy="1385" rx="11.4" ry="11.4" fill="#ff2600" opacity="0.27"/>
<ellipse cx="950" cy="1410" rx="9.52" ry="9.52" fill="#ff2600" opacity="0.18"/>
<ellipse cx="960" cy="1445" rx="11.4" ry="11.4" fill="#ff2600" opacity="0.27"/>
<ellipse cx="895" cy="15" rx="15.16" ry="11.4" fill="#ff5c0a" opacity="0.45"/>
<ellipse cx="1185" cy="345" rx="9.52" ry="9.52" fill="#ff2600" opacity="0.27"/>
<ellipse cx="1330" cy="330" rx="13.28" ry="13.28" fill="#ff5c0a" opacity="0.45"/>
<ellipse cx="1290" cy="330" rx="9.52" ry="9.52" fill="#e6c81e" opacity="0.27"/>
<ellipse cx="1540" cy="405" rx="9.52" ry="15.16" fill="#ff2600" opacity="0.36"/>
<ellipse cx="1510" cy="230" rx="15.16" ry="11.4" fill="#ff5c0a" opacity="0.36"/>
<ellipse cx="1110" cy="420" rx="15.16" ry="15.16" fill="#ff5c0a" opacity="0.27"/>
<ellipse cx="885" cy="550" rx="11.4" ry="30.2" fill="#e6c81e" opacity="0.27"/>
<ellipse cx="1225" cy="545" rx="9.52" ry="9.52" fill="#ff2600" opacity="0.27"/>
<ellipse cx="0" cy="445" rx="7.64" ry="15.16" fill="#ff2600" opacity="0.72"/>
<ellipse cx="30" cy="270" rx="20.8" ry="5.36" fill="#ff2600" opacity="0.27"/>
</g></svg>
<svg x="13" y="535" width="521" height="520.5" viewBox="0 0 521 520.5">
<rect x="0" y="0" width="521" height="520.5" fill="url(#bgE)"/>
<g transform="scale(0.30769)" filter="url(#glow)">
<ellipse cx="140" cy="30" rx="10.46" ry="30.2" fill="#ff1206" opacity="1" transform="rotate(-15 140 30)"/>
<ellipse cx="940" cy="25" rx="17.04" ry="17.04" fill="#ff1206" opacity="1"/>
<ellipse cx="1630" cy="15" rx="20.8" ry="11.4" fill="#ff1206" opacity="0.81"/>
<ellipse cx="755" cy="60" rx="9.52" ry="17.04" fill="#ff1206" opacity="0.72"/>
<ellipse cx="1095" cy="15" rx="13.28" ry="7.64" fill="#ff1206" opacity="0.45"/>
<ellipse cx="220" cy="135" rx="15.16" ry="15.16" fill="#ff1206" opacity="0.63"/>
<ellipse cx="235" cy="170" rx="13.28" ry="13.28" fill="#ff1206" opacity="0.63"/>
<ellipse cx="255" cy="235" rx="15.16" ry="15.16" fill="#ff1206" opacity="1"/>
<ellipse cx="140" cy="310" rx="20.8" ry="20.8" fill="#ff1206" opacity="0.81"/>
<ellipse cx="35" cy="400" rx="20.8" ry="20.8" fill="#ff1206" opacity="1"/>
<ellipse cx="40" cy="690" rx="15.16" ry="15.16" fill="#ff1206" opacity="1"/>
<ellipse cx="15" cy="770" rx="9.52" ry="20.8" fill="#ff1206" opacity="0.63"/>
<ellipse cx="545" cy="265" rx="17.04" ry="20.8" fill="#ff1206" opacity="1"/>
<ellipse cx="390" cy="320" rx="11.4" ry="11.4" fill="#ff1206" opacity="0.72"/>
<ellipse cx="520" cy="200" rx="20.8" ry="20.8" fill="#ff1206" opacity="0.27"/>
<ellipse cx="590" cy="410" rx="22.68" ry="18.92" fill="#ff1206" opacity="0.63"/>
<ellipse cx="550" cy="380" rx="15.16" ry="15.16" fill="#ff1206" opacity="0.36"/>
<ellipse cx="815" cy="245" rx="24.56" ry="39.6" fill="#ff1206" opacity="1"/>
<ellipse cx="820" cy="200" rx="20.8" ry="9.52" fill="#ff1206" opacity="0.63"/>
<ellipse cx="1010" cy="335" rx="28.32" ry="30.2" fill="#ff1206" opacity="1"/>
<ellipse cx="1010" cy="175" rx="11.4" ry="11.4" fill="#ff1206" opacity="0.72"/>
<ellipse cx="1295" cy="340" rx="20.8" ry="13.28" fill="#ff1206" opacity="0.81"/>
<ellipse cx="1210" cy="395" rx="22.68" ry="18.92" fill="#ff1206" opacity="0.81"/>
<ellipse cx="1565" cy="345" rx="20.8" ry="13.28" fill="#ff1206" opacity="0.72" transform="rotate(-30 1565 345)"/>
<ellipse cx="1490" cy="395" rx="8.58" ry="30.2" fill="#ff1206" opacity="0.36"/>
<ellipse cx="1665" cy="440" rx="13.28" ry="20.8" fill="#ff1206" opacity="0.54"/>
<ellipse cx="850" cy="455" rx="25.5" ry="22.68" fill="#ff1206" opacity="0.81"/>
<ellipse cx="870" cy="470" rx="11.4" ry="11.4" fill="#ff1206" opacity="0.54"/>
<ellipse cx="1050" cy="440" rx="13.28" ry="13.28" fill="#ff1206" opacity="0.45"/>
<ellipse cx="230" cy="460" rx="18.92" ry="13.28" fill="#ff1206" opacity="0.72"/>
<ellipse cx="260" cy="450" rx="17.04" ry="17.04" fill="#ff1206" opacity="0.45"/>
<ellipse cx="440" cy="470" rx="11.4" ry="11.4" fill="#ff1206" opacity="0.63"/>
<ellipse cx="1250" cy="485" rx="15.16" ry="15.16" fill="#ff1206" opacity="1"/>
<ellipse cx="1120" cy="520" rx="11.4" ry="20.8" fill="#ff1206" opacity="0.36"/>
<ellipse cx="1215" cy="555" rx="13.28" ry="30.2" fill="#ff1206" opacity="0.81" transform="rotate(-20 1215 555)"/>
<ellipse cx="1650" cy="535" rx="20.8" ry="13.28" fill="#ff1206" opacity="0.81"/>
<ellipse cx="1345" cy="615" rx="15.16" ry="15.16" fill="#ff1206" opacity="0.81"/>
<ellipse cx="1650" cy="650" rx="15.16" ry="20.8" fill="#ff1206" opacity="1"/>
<ellipse cx="310" cy="540" rx="30.2" ry="30.2" fill="#ff1206" opacity="0.81"/>
<ellipse cx="325" cy="600" rx="22.68" ry="20.8" fill="#ff1206" opacity="1"/>
<ellipse cx="360" cy="625" rx="17.04" ry="15.16" fill="#ff1206" opacity="0.72"/>
<ellipse cx="210" cy="625" rx="22.68" ry="22.68" fill="#ff1206" opacity="0.36"/>
<ellipse cx="275" cy="510" rx="11.4" ry="11.4" fill="#ff1206" opacity="0.54"/>
<ellipse cx="880" cy="645" rx="17.04" ry="15.16" fill="#ff1206" opacity="0.72"/>
<ellipse cx="965" cy="635" rx="18.92" ry="18.92" fill="#ff1206" opacity="0.81"/>
<ellipse cx="735" cy="685" rx="20.8" ry="18.92" fill="#ff1206" opacity="1"/>
<ellipse cx="545" cy="685" rx="9.52" ry="9.52" fill="#ff1206" opacity="0.27"/>
<ellipse cx="380" cy="720" rx="49" ry="11.4" fill="#ff1206" opacity="1" transform="rotate(12 380 720)"/>
<ellipse cx="440" cy="740" rx="30.2" ry="9.52" fill="#ff1206" opacity="0.72" transform="rotate(15 440 740)"/>
<ellipse cx="620" cy="785" rx="18.92" ry="17.04" fill="#ff1206" opacity="1"/>
<ellipse cx="130" cy="745" rx="15.16" ry="11.4" fill="#ff1206" opacity="0.63"/>
<ellipse cx="510" cy="820" rx="17.04" ry="17.04" fill="#ff1206" opacity="0.36"/>
<ellipse cx="375" cy="795" rx="9.52" ry="9.52" fill="#ff1206" opacity="0.27"/>
<ellipse cx="1530" cy="670" rx="30.2" ry="15.16" fill="#ff1206" opacity="0.63" transform="rotate(-30 1530 670)"/>
<ellipse cx="1535" cy="745" rx="20.8" ry="18.92" fill="#ff1206" opacity="1"/>
<ellipse cx="1280" cy="745" rx="11.4" ry="11.4" fill="#ff1206" opacity="0.45"/>
<ellipse cx="1000" cy="785" rx="15.16" ry="18.92" fill="#ff1206" opacity="0.63"/>
<ellipse cx="925" cy="715" rx="15.16" ry="15.16" fill="#ff1206" opacity="0.27"/>
<ellipse cx="850" cy="750" rx="13.28" ry="13.28" fill="#ff1206" opacity="0.27"/>
<ellipse cx="1440" cy="835" rx="22.68" ry="25.5" fill="#ff1206" opacity="1"/>
<ellipse cx="1375" cy="875" rx="15.16" ry="15.16" fill="#ff1206" opacity="0.72"/>
<ellipse cx="1220" cy="850" rx="18.92" ry="18.92" fill="#ff1206" opacity="0.36"/>
<ellipse cx="1470" cy="790" rx="11.4" ry="20.8" fill="#ff1206" opacity="0.45"/>
<ellipse cx="1565" cy="855" rx="20.8" ry="7.64" fill="#ff1206" opacity="0.45" transform="rotate(30 1565 855)"/>
<ellipse cx="210" cy="885" rx="22.68" ry="25.5" fill="#ff1206" opacity="1"/>
<ellipse cx="185" cy="850" rx="13.28" ry="13.28" fill="#ff1206" opacity="0.45"/>
<ellipse cx="460" cy="938" rx="11.4" ry="11.4" fill="#ff1206" opacity="0.81"/>
<ellipse cx="700" cy="870" rx="34.9" ry="20.8" fill="#ff1206" opacity="1"/>
<ellipse cx="720" cy="880" rx="13.28" ry="13.28" fill="#ff1206" opacity="1"/>
<ellipse cx="735" cy="965" rx="18.92" ry="25.5" fill="#ff1206" opacity="1"/>
<ellipse cx="760" cy="1000" rx="9.52" ry="17.04" fill="#ff1206" opacity="0.54"/>
<ellipse cx="1015" cy="905" rx="15.16" ry="20.8" fill="#ff1206" opacity="0.27"/>
<ellipse cx="525" cy="1070" rx="25.5" ry="24.56" fill="#ff1206" opacity="1"/>
<ellipse cx="470" cy="1055" rx="13.28" ry="13.28" fill="#ff1206" opacity="0.36"/>
<ellipse cx="780" cy="1115" rx="13.28" ry="20.8" fill="#ff1206" opacity="0.63" transform="rotate(-30 780 1115)"/>
<ellipse cx="1080" cy="1085" rx="13.28" ry="34.9" fill="#ff1206" opacity="1" transform="rotate(-10 1080 1085)"/>
<ellipse cx="1085" cy="1165" rx="15.16" ry="15.16" fill="#ff1206" opacity="0.81"/>
<ellipse cx="1600" cy="1015" rx="15.16" ry="11.4" fill="#ff1206" opacity="0.72" transform="rotate(30 1600 1015)"/>
<ellipse cx="285" cy="1152" rx="34.9" ry="9.52" fill="#ff1206" opacity="1" transform="rotate(5 285 1152)"/>
<ellipse cx="1425" cy="1110" rx="20.8" ry="20.8" fill="#ff1206" opacity="0.405"/>
<ellipse cx="1480" cy="1170" rx="15.16" ry="15.16" fill="#ff1206" opacity="1"/>
<ellipse cx="1215" cy="1120" rx="13.28" ry="13.28" fill="#ff1206" opacity="0.27"/>
<ellipse cx="985" cy="1165" rx="39.6" ry="18.92" fill="#ff1206" opacity="1" transform="rotate(-35 985 1165)"/>
<ellipse cx="930" cy="1215" rx="30.2" ry="34.9" fill="#ff1206" opacity="1"/>
<ellipse cx="900" cy="1250" rx="15.16" ry="25.5" fill="#ff1206" opacity="0.72"/>
<ellipse cx="990" cy="1320" rx="13.28" ry="30.2" fill="#ff1206" opacity="0.765" transform="rotate(-25 990 1320)"/>
<ellipse cx="465" cy="1215" rx="13.28" ry="22.68" fill="#ff1206" opacity="0.72"/>
<ellipse cx="520" cy="1245" rx="18.92" ry="15.16" fill="#ff1206" opacity="0.81"/>
<ellipse cx="600" cy="1300" rx="18.92" ry="20.8" fill="#ff1206" opacity="1"/>
<ellipse cx="1135" cy="1245" rx="18.92" ry="18.92" fill="#ff1206" opacity="0.45"/>
<ellipse cx="1150" cy="1280" rx="15.16" ry="11.4" fill="#ff1206" opacity="0.81"/>
<ellipse cx="215" cy="1290" rx="20.8" ry="18.92" fill="#ff1206" opacity="0.72"/>
<ellipse cx="245" cy="1275" rx="11.4" ry="11.4" fill="#ff1206" opacity="0.54"/>
<ellipse cx="265" cy="1360" rx="15.16" ry="28.32" fill="#ff1206" opacity="1" transform="rotate(-10 265 1360)"/>
<ellipse cx="295" cy="1395" rx="17.04" ry="17.04" fill="#ff1206" opacity="0.81"/>
<ellipse cx="330" cy="1390" rx="15.16" ry="15.16" fill="#ff1206" opacity="0.63"/>
<ellipse cx="295" cy="1450" rx="13.28" ry="17.04" fill="#ff1206" opacity="0.72"/>
<ellipse cx="10" cy="1300" rx="9.52" ry="30.2" fill="#ff1206" opacity="0.45"/>
<ellipse cx="505" cy="1480" rx="11.4" ry="20.8" fill="#ff1206" opacity="0.81"/>
<ellipse cx="580" cy="1440" rx="11.4" ry="11.4" fill="#ff1206" opacity="0.27"/>
<ellipse cx="1435" cy="1405" rx="24.56" ry="26.44" fill="#ff1206" opacity="1"/>
<ellipse cx="1400" cy="1440" rx="11.4" ry="11.4" fill="#ff1206" opacity="0.45"/>
<ellipse cx="1595" cy="1445" rx="39.6" ry="22.68" fill="#ff1206" opacity="1"/>
<ellipse cx="1650" cy="1430" rx="30.2" ry="11.4" fill="#ff1206" opacity="1"/>
<ellipse cx="1520" cy="1445" rx="39.6" ry="7.64" fill="#ff1206" opacity="0.81" transform="rotate(-20 1520 1445)"/>
<ellipse cx="1430" cy="1490" rx="58.4" ry="4.02" fill="#ff1206" opacity="0.54" transform="rotate(-20 1430 1490)"/>
<ellipse cx="1680" cy="1470" rx="11.4" ry="11.4" fill="#ff1206" opacity="0.81"/>
<ellipse cx="650" cy="1535" rx="20.8" ry="13.28" fill="#ff1206" opacity="0.81"/>
<ellipse cx="715" cy="1545" rx="22.68" ry="13.28" fill="#ff1206" opacity="0.81"/>
<ellipse cx="820" cy="1545" rx="25.5" ry="13.28" fill="#ff1206" opacity="1"/>
<ellipse cx="690" cy="1540" rx="11.4" ry="11.4" fill="#ff1206" opacity="0.54"/>
<ellipse cx="350" cy="1580" rx="20.8" ry="22.68" fill="#ff1206" opacity="0.45"/>
<ellipse cx="430" cy="1580" rx="15.16" ry="15.16" fill="#ff1206" opacity="0.36"/>
<ellipse cx="1300" cy="1550" rx="11.4" ry="11.4" fill="#ff1206" opacity="0.45"/>
<ellipse cx="1085" cy="1625" rx="20.8" ry="15.16" fill="#ff1206" opacity="0.81"/>
<ellipse cx="1120" cy="1650" rx="15.16" ry="15.16" fill="#ff1206" opacity="0.81"/>
<ellipse cx="1240" cy="1640" rx="11.4" ry="11.4" fill="#ff1206" opacity="0.81"/>
<ellipse cx="125" cy="1655" rx="13.28" ry="25.5" fill="#ff1206" opacity="1"/>
<ellipse cx="1600" cy="260" rx="20.8" ry="6.7" fill="#ff1206" opacity="0.27" transform="rotate(-20 1600 260)"/>
<ellipse cx="30" cy="520" rx="9.52" ry="9.52" fill="#ff1206" opacity="0.27"/>
<ellipse cx="610" cy="60" rx="15.16" ry="15.16" fill="#ff1206" opacity="0.27"/>
<ellipse cx="670" cy="700" rx="11.4" ry="11.4" fill="#ff1206" opacity="0.27"/>
<ellipse cx="1060" cy="1220" rx="13.28" ry="13.28" fill="#ff1206" opacity="0.27"/>
<ellipse cx="745" cy="1255" rx="13.28" ry="13.28" fill="#ff1206" opacity="0.27"/>
<ellipse cx="165" cy="1130" rx="11.4" ry="11.4" fill="#ff1206" opacity="0.27"/>
<ellipse cx="30" cy="1205" rx="11.4" ry="20.8" fill="#ff1206" opacity="0.27"/>
<ellipse cx="645" cy="565" rx="58.4" ry="2.68" fill="#ff1206" opacity="0.36" transform="rotate(-38 645 565)"/>
<ellipse cx="540" cy="765" rx="58.4" ry="2.68" fill="#ff1206" opacity="0.45" transform="rotate(12 540 765)"/>
<ellipse cx="600" cy="830" rx="53.7" ry="2.68" fill="#ff1206" opacity="0.27" transform="rotate(-45 600 830)"/>
<ellipse cx="920" cy="1075" rx="2.68" ry="67.8" fill="#ff1206" opacity="0.27" transform="rotate(-12 920 1075)"/>
<ellipse cx="1145" cy="1090" rx="44.3" ry="2.68" fill="#ff1206" opacity="0.36" transform="rotate(-25 1145 1090)"/>
<ellipse cx="980" cy="1370" rx="4.02" ry="30.2" fill="#ff1206" opacity="0.54" transform="rotate(-20 980 1370)"/>
</g></svg>
<svg x="537" y="535" width="520" height="520.5" viewBox="0 0 520 520.5">
<rect x="0" y="0" width="520" height="520.5" fill="url(#bgF)"/>
<g transform="scale(0.30769)" filter="url(#glow)">
<ellipse cx="165" cy="180" rx="18.92" ry="18.92" fill="#ff5c0a" opacity="0.81"/>
<ellipse cx="125" cy="110" rx="20.8" ry="15.16" fill="#f58c14" opacity="0.45"/>
<ellipse cx="55" cy="255" rx="15.16" ry="20.8" fill="#ff2600" opacity="0.54"/>
<ellipse cx="60" cy="215" rx="15.16" ry="15.16" fill="#b09a1c" opacity="0.27"/>
<ellipse cx="465" cy="205" rx="17.04" ry="25.5" fill="#f58c14" opacity="0.72"/>
<ellipse cx="310" cy="255" rx="11.4" ry="11.4" fill="#ff2600" opacity="0.45"/>
<ellipse cx="405" cy="130" rx="11.4" ry="11.4" fill="#ff2600" opacity="0.27"/>
<ellipse cx="740" cy="130" rx="20.8" ry="17.04" fill="#ff5c0a" opacity="0.81"/>
<ellipse cx="935" cy="75" rx="13.28" ry="13.28" fill="#ff2600" opacity="0.72"/>
<ellipse cx="675" cy="5" rx="13.28" ry="13.28" fill="#ff2600" opacity="0.63"/>
<ellipse cx="805" cy="15" rx="11.4" ry="11.4" fill="#ff2600" opacity="0.45"/>
<ellipse cx="810" cy="185" rx="17.04" ry="25.5" fill="#ff5c0a" opacity="0.63" transform="rotate(20 810 185)"/>
<ellipse cx="780" cy="225" rx="15.16" ry="15.16" fill="#ff2600" opacity="0.72"/>
<ellipse cx="660" cy="280" rx="14.22" ry="34.9" fill="#ff2600" opacity="1" transform="rotate(35 660 280)"/>
<ellipse cx="930" cy="270" rx="20.8" ry="25.5" fill="#ff2600" opacity="1"/>
<ellipse cx="975" cy="375" rx="20.8" ry="13.28" fill="#ff5c0a" opacity="0.72"/>
<ellipse cx="485" cy="340" rx="34.9" ry="18.92" fill="#ff2600" opacity="0.45" transform="rotate(20 485 340)"/>
<ellipse cx="360" cy="410" rx="17.04" ry="11.4" fill="#ff5c0a" opacity="0.45"/>
<ellipse cx="185" cy="435" rx="15.16" ry="15.16" fill="#f58c14" opacity="0.63"/>
<ellipse cx="245" cy="465" rx="25.5" ry="25.5" fill="#ff5c0a" opacity="0.81"/>
<ellipse cx="260" cy="520" rx="25.5" ry="17.04" fill="#ff5c0a" opacity="0.81" transform="rotate(-15 260 520)"/>
<ellipse cx="185" cy="510" rx="15.16" ry="15.16" fill="#ff2600" opacity="0.54"/>
<ellipse cx="285" cy="565" rx="15.16" ry="15.16" fill="#ff2600" opacity="0.63"/>
<ellipse cx="140" cy="400" rx="11.4" ry="11.4" fill="#ff2600" opacity="0.45"/>
<ellipse cx="110" cy="520" rx="15.16" ry="30.2" fill="#ff2600" opacity="0.63" transform="rotate(-30 110 520)"/>
<ellipse cx="130" cy="545" rx="20.8" ry="9.52" fill="#ff2600" opacity="0.54" transform="rotate(40 130 545)"/>
<ellipse cx="670" cy="485" rx="34.9" ry="16.1" fill="#ff2600" opacity="0.72" transform="rotate(-30 670 485)"/>
<ellipse cx="620" cy="480" rx="30.2" ry="15.16" fill="#ff2600" opacity="0.36" transform="rotate(-20 620 480)"/>
<ellipse cx="795" cy="430" rx="9.52" ry="9.52" fill="#ff2600" opacity="0.54"/>
<ellipse cx="645" cy="625" rx="20.8" ry="20.8" fill="#ff2600" opacity="1"/>
<ellipse cx="885" cy="565" rx="17.04" ry="17.04" fill="#ff2600" opacity="0.63"/>
<ellipse cx="810" cy="595" rx="17.04" ry="25.5" fill="#b09a1c" opacity="0.36"/>
<ellipse cx="50" cy="690" rx="17.04" ry="17.04" fill="#ff5c0a" opacity="0.54"/>
<ellipse cx="290" cy="730" rx="17.04" ry="20.8" fill="#a6e220" opacity="0.36"/>
<ellipse cx="310" cy="685" rx="10.46" ry="20.8" fill="#ff2600" opacity="0.63" transform="rotate(-20 310 685)"/>
<ellipse cx="430" cy="735" rx="25.5" ry="30.2" fill="#ff5c0a" opacity="0.54"/>
<ellipse cx="440" cy="715" rx="25.5" ry="9.52" fill="#ff2600" opacity="0.72" transform="rotate(15 440 715)"/>
<ellipse cx="130" cy="810" rx="15.16" ry="30.2" fill="#ff5c0a" opacity="0.54" transform="rotate(-25 130 810)"/>
<ellipse cx="400" cy="885" rx="18.92" ry="30.2" fill="#ff2600" opacity="0.81"/>
<ellipse cx="640" cy="790" rx="20.8" ry="30.2" fill="#b09a1c" opacity="0.45"/>
<ellipse cx="655" cy="830" rx="20.8" ry="20.8" fill="#b09a1c" opacity="0.45"/>
<ellipse cx="640" cy="735" rx="13.28" ry="13.28" fill="#3cf01e" opacity="0.27"/>
<ellipse cx="795" cy="845" rx="10.46" ry="44.3" fill="#ff2600" opacity="1"/>
<ellipse cx="880" cy="715" rx="20.8" ry="34.9" fill="#ff5c0a" opacity="0.45" transform="rotate(-30 880 715)"/>
<ellipse cx="975" cy="715" rx="13.28" ry="13.28" fill="#ff2600" opacity="0.72"/>
<ellipse cx="790" cy="700" rx="15.16" ry="30.2" fill="#ff5c0a" opacity="0.36"/>
<ellipse cx="925" cy="845" rx="20.8" ry="25.5" fill="#ff5c0a" opacity="0.27"/>
<ellipse cx="915" cy="925" rx="13.28" ry="13.28" fill="#ff2600" opacity="0.45"/>
<ellipse cx="450" cy="1005" rx="22.68" ry="22.68" fill="#ff5c0a" opacity="0.81"/>
<ellipse cx="680" cy="955" rx="13.28" ry="28.32" fill="#f58c14" opacity="0.63" transform="rotate(-15 680 955)"/>
<ellipse cx="710" cy="1045" rx="22.68" ry="28.32" fill="#3cf01e" opacity="0.45"/>
<ellipse cx="675" cy="1055" rx="13.28" ry="20.8" fill="#ff5c0a" opacity="0.36"/>
<ellipse cx="105" cy="1085" rx="14.22" ry="34.9" fill="#ff2600" opacity="0.72" transform="rotate(40 105 1085)"/>
<ellipse cx="95" cy="1070" rx="11.4" ry="11.4" fill="#a6e220" opacity="0.45"/>
<ellipse cx="410" cy="1110" rx="28.32" ry="34.9" fill="#ff3c00" opacity="0.81"/>
<ellipse cx="385" cy="1060" rx="6.7" ry="25.5" fill="#ff2600" opacity="0.54" transform="rotate(-20 385 1060)"/>
<ellipse cx="1000" cy="1050" rx="17.04" ry="49" fill="#ff5c0a" opacity="0.63"/>
<ellipse cx="1110" cy="1025" rx="14.22" ry="39.6" fill="#ff2600" opacity="1" transform="rotate(50 1110 1025)"/>
<ellipse cx="1200" cy="940" rx="4.02" ry="39.6" fill="#ff2600" opacity="0.63" transform="rotate(45 1200 940)"/>
<ellipse cx="1040" cy="1090" rx="4.02" ry="30.2" fill="#ff2600" opacity="0.45" transform="rotate(50 1040 1090)"/>
<ellipse cx="845" cy="1170" rx="25.5" ry="22.68" fill="#ff5c0a" opacity="0.72"/>
<ellipse cx="980" cy="1165" rx="22.68" ry="20.8" fill="#b09a1c" opacity="0.45"/>
<ellipse cx="1045" cy="1160" rx="20.8" ry="28.32" fill="#ff5c0a" opacity="0.45"/>
<ellipse cx="1075" cy="1210" rx="17.04" ry="13.28" fill="#ff5c0a" opacity="0.54"/>
<ellipse cx="935" cy="1280" rx="13.28" ry="39.6" fill="#ff5c0a" opacity="0.63" transform="rotate(-15 935 1280)"/>
<ellipse cx="660" cy="1290" rx="12.34" ry="39.6" fill="#ff2600" opacity="0.72" transform="rotate(-25 660 1290)"/>
<ellipse cx="165" cy="1240" rx="25.5" ry="34.9" fill="#ff5c0a" opacity="0.81"/>
<ellipse cx="540" cy="1260" rx="17.04" ry="15.16" fill="#f58c14" opacity="0.81"/>
<ellipse cx="405" cy="1265" rx="15.16" ry="15.16" fill="#3cf01e" opacity="0.45"/>
<ellipse cx="270" cy="1325" rx="25.5" ry="17.04" fill="#f58c14" opacity="0.54" transform="rotate(25 270 1325)"/>
<ellipse cx="150" cy="1355" rx="25.5" ry="18.92" fill="#b09a1c" opacity="0.45"/>
<ellipse cx="205" cy="1400" rx="25.5" ry="22.68" fill="#ff5c0a" opacity="0.54"/>
<ellipse cx="510" cy="1385" rx="20.8" ry="17.04" fill="#a6e220" opacity="0.45"/>
<ellipse cx="420" cy="1425" rx="15.16" ry="25.5" fill="#f58c14" opacity="0.63"/>
<ellipse cx="645" cy="1478" rx="22.68" ry="15.16" fill="#ff2600" opacity="0.72"/>
<ellipse cx="570" cy="1470" rx="17.04" ry="13.28" fill="#ff2600" opacity="0.45"/>
<ellipse cx="745" cy="1478" rx="30.2" ry="18.92" fill="#ff5c0a" opacity="0.63"/>
<ellipse cx="1215" cy="1470" rx="17.04" ry="20.8" fill="#ff5c0a" opacity="0.72"/>
<ellipse cx="335" cy="1515" rx="15.16" ry="15.16" fill="#ff2600" opacity="0.54"/>
<ellipse cx="265" cy="1510" rx="15.16" ry="18.92" fill="#ff2600" opacity="0.36"/>
<ellipse cx="45" cy="1590" rx="13.28" ry="30.2" fill="#ff5c0a" opacity="0.54"/>
<ellipse cx="1020" cy="1590" rx="15.16" ry="15.16" fill="#ff5c0a" opacity="0.54"/>
<ellipse cx="1000" cy="1555" rx="15.16" ry="15.16" fill="#ff2600" opacity="0.45"/>
<ellipse cx="1165" cy="1570" rx="15.16" ry="11.4" fill="#ff2600" opacity="0.72"/>
<ellipse cx="1175" cy="1615" rx="9.52" ry="9.52" fill="#ff2600" opacity="0.54"/>
<ellipse cx="1040" cy="1580" rx="9.52" ry="15.16" fill="#e6c81e" opacity="0.45"/>
<ellipse cx="1350" cy="1345" rx="20.8" ry="25.5" fill="#ff3c00" opacity="0.45"/>
<ellipse cx="1335" cy="1385" rx="15.16" ry="15.16" fill="#ff2600" opacity="0.36"/>
<ellipse cx="1510" cy="1380" rx="22.68" ry="20.8" fill="#ff5c0a" opacity="0.81"/>
<ellipse cx="1620" cy="1410" rx="17.04" ry="11.4" fill="#ff2600" opacity="0.36"/>
<ellipse cx="1495" cy="1403" rx="180.6" ry="2.68" fill="#ff2600" opacity="0.45" transform="rotate(-2 1495 1403)"/>
<ellipse cx="1400" cy="1150" rx="9.52" ry="34.9" fill="#ff2600" opacity="1"/>
<ellipse cx="1400" cy="1210" rx="4.02" ry="25.5" fill="#ff2600" opacity="0.54"/>
<ellipse cx="1345" cy="1045" rx="20.8" ry="20.8" fill="#ff2600" opacity="0.315"/>
<ellipse cx="1240" cy="1215" rx="13.28" ry="13.28" fill="#ff2600" opacity="0.45"/>
<ellipse cx="1490" cy="930" rx="25.5" ry="22.68" fill="#a6e220" opacity="0.45"/>
<ellipse cx="1625" cy="950" rx="11.4" ry="18.92" fill="#3cf01e" opacity="0.36"/>
<ellipse cx="1335" cy="700" rx="16.1" ry="44.3" fill="#ff5c0a" opacity="0.81" transform="rotate(-20 1335 700)"/>
<ellipse cx="1320" cy="670" rx="15.16" ry="20.8" fill="#e6c81e" opacity="0.54"/>
<ellipse cx="1380" cy="800" rx="4.02" ry="39.6" fill="#ff2600" opacity="0.36" transform="rotate(-20 1380 800)"/>
<ellipse cx="1285" cy="795" rx="15.16" ry="20.8" fill="#f58c14" opacity="0.63"/>
<ellipse cx="1320" cy="805" rx="20.8" ry="13.28" fill="#ff5c0a" opacity="0.54"/>
<ellipse cx="1145" cy="790" rx="20.8" ry="20.8" fill="#ff2600" opacity="0.27"/>
<ellipse cx="1200" cy="675" rx="15.16" ry="15.16" fill="#a6e220" opacity="0.54"/>
<ellipse cx="1510" cy="675" rx="18.92" ry="18.92" fill="#3cf01e" opacity="0.81"/>
<ellipse cx="1470" cy="685" rx="13.28" ry="22.68" fill="#f58c14" opacity="0.63" transform="rotate(30 1470 685)"/>
<ellipse cx="1435" cy="665" rx="15.16" ry="15.16" fill="#f58c14" opacity="0.63"/>
<ellipse cx="1395" cy="620" rx="15.16" ry="18.92" fill="#ff3c00" opacity="0.54"/>
<ellipse cx="1260" cy="555" rx="18.92" ry="18.92" fill="#f58c14" opacity="0.63"/>
<ellipse cx="1475" cy="615" rx="18.92" ry="25.5" fill="#ff5c0a" opacity="0.45"/>
<ellipse cx="1555" cy="610" rx="25.5" ry="34.9" fill="#ff5c0a" opacity="0.45"/>
<ellipse cx="1650" cy="575" rx="20.8" ry="11.4" fill="#f58c14" opacity="0.45"/>
<ellipse cx="1660" cy="665" rx="13.28" ry="20.8" fill="#f58c14" opacity="0.63" transform="rotate(30 1660 665)"/>
<ellipse cx="1685" cy="635" rx="9.52" ry="9.52" fill="#e6c81e" opacity="0.63"/>
<ellipse cx="1470" cy="765" rx="20.8" ry="15.16" fill="#b09a1c" opacity="0.45"/>
<ellipse cx="1665" cy="775" rx="17.04" ry="13.28" fill="#3cf01e" opacity="0.72" transform="rotate(-30 1665 775)"/>
<ellipse cx="1590" cy="795" rx="9.52" ry="9.52" fill="#ff2600" opacity="0.63"/>
<ellipse cx="1120" cy="470" rx="17.04" ry="39.6" fill="#f58c14" opacity="0.54" transform="rotate(-25 1120 470)"/>
<ellipse cx="1035" cy="460" rx="15.16" ry="28.32" fill="#a6e220" opacity="0.54"/>
<ellipse cx="1190" cy="435" rx="11.4" ry="7.64" fill="#3cf01e" opacity="0.72"/>
<ellipse cx="1160" cy="395" rx="22.68" ry="15.16" fill="#ff5c0a" opacity="0.81" transform="rotate(15 1160 395)"/>
<ellipse cx="1145" cy="320" rx="18.92" ry="15.16" fill="#ff5c0a" opacity="0.72" transform="rotate(20 1145 320)"/>
<ellipse cx="1115" cy="300" rx="13.28" ry="13.28" fill="#a6e220" opacity="0.63"/>
<ellipse cx="1215" cy="290" rx="15.16" ry="9.52" fill="#ff2600" opacity="0.63"/>
<ellipse cx="1270" cy="375" rx="11.4" ry="11.4" fill="#ff2600" opacity="0.54"/>
<ellipse cx="1405" cy="365" rx="13.28" ry="30.2" fill="#ff3c00" opacity="0.54" transform="rotate(-10 1405 365)"/>
<ellipse cx="1395" cy="420" rx="11.4" ry="20.8" fill="#a6e220" opacity="0.36" transform="rotate(-30 1395 420)"/>
<ellipse cx="1500" cy="275" rx="30.2" ry="17.04" fill="#f58c14" opacity="0.63"/>
<ellipse cx="1565" cy="360" rx="25.5" ry="13.28" fill="#f58c14" opacity="0.54"/>
<ellipse cx="1545" cy="465" rx="25.5" ry="18.92" fill="#ff5c0a" opacity="0.63" transform="rotate(-20 1545 465)"/>
<ellipse cx="1660" cy="415" rx="25.5" ry="39.6" fill="#f58c14" opacity="0.63"/>
<ellipse cx="1670" cy="465" rx="15.16" ry="15.16" fill="#f58c14" opacity="0.54"/>
<ellipse cx="1645" cy="235" rx="11.4" ry="25.5" fill="#3cf01e" opacity="0.81"/>
<ellipse cx="1415" cy="105" rx="18.92" ry="25.5" fill="#3cf01e" opacity="0.54" transform="rotate(-30 1415 105)"/>
<ellipse cx="1400" cy="190" rx="20.8" ry="15.16" fill="#a6e220" opacity="0.45"/>
<ellipse cx="1110" cy="80" rx="22.68" ry="11.4" fill="#3cf01e" opacity="0.54" transform="rotate(10 1110 80)"/>
<ellipse cx="1225" cy="50" rx="17.04" ry="13.28" fill="#3cf01e" opacity="0.27"/>
<ellipse cx="1625" cy="170" rx="13.28" ry="39.6" fill="#ff3c00" opacity="0.45" transform="rotate(10 1625 170)"/>
<ellipse cx="1655" cy="85" rx="20.8" ry="25.5" fill="#ff2600" opacity="0.27"/>
<ellipse cx="1095" cy="20" rx="15.16" ry="15.16" fill="#ff2600" opacity="0.45"/>
<ellipse cx="1320" cy="320" rx="9.52" ry="18.92" fill="#a6e220" opacity="0.36"/>
<ellipse cx="1430" cy="495" rx="9.52" ry="9.52" fill="#3cf01e" opacity="0.63"/>
<ellipse cx="1475" cy="460" rx="13.28" ry="7.64" fill="#3cf01e" opacity="0.36"/>
<ellipse cx="1650" cy="1640" rx="11.4" ry="17.04" fill="#a6e220" opacity="0.45"/>
<ellipse cx="1450" cy="1640" rx="9.52" ry="20.8" fill="#ff2600" opacity="0.36"/>
<ellipse cx="220" cy="625" rx="96" ry="2.68" fill="#ff2600" opacity="0.45" transform="rotate(40 220 625)"/>
<ellipse cx="360" cy="780" rx="2.68" ry="86.6" fill="#ff2600" opacity="0.45" transform="rotate(-25 360 780)"/>
<ellipse cx="375" cy="945" rx="2.68" ry="39.6" fill="#ff2600" opacity="0.36" transform="rotate(35 375 945)"/>
<ellipse cx="795" cy="720" rx="2.68" ry="77.2" fill="#ff2600" opacity="0.45"/>
<ellipse cx="797" cy="970" rx="2.68" ry="77.2" fill="#ff2600" opacity="0.45"/>
<ellipse cx="835" cy="1105" rx="2.68" ry="58.4" fill="#ff2600" opacity="0.36" transform="rotate(-35 835 1105)"/>
<ellipse cx="930" cy="1315" rx="2.68" ry="124.2" fill="#ff2600" opacity="0.27" transform="rotate(-25 930 1315)"/>
<ellipse cx="570" cy="555" rx="124.2" ry="2.68" fill="#ff2600" opacity="0.315" transform="rotate(-25 570 555)"/>
<ellipse cx="900" cy="158" rx="67.8" ry="2.68" fill="#ff2600" opacity="0.36" transform="rotate(-14 900 158)"/>
</g></svg>
<svg x="1059.5" y="535" width="520.5" height="520.5" viewBox="0 0 520.5 520.5">
<rect x="0" y="0" width="520.5" height="520.5" fill="url(#bgG)"/>
<g transform="scale(0.30769)" filter="url(#glow)">
<ellipse cx="155" cy="185" rx="15.16" ry="15.16" fill="#ff3c00" opacity="0.72"/>
<ellipse cx="450" cy="200" rx="15.16" ry="18.92" fill="#f58c14" opacity="0.72"/>
<ellipse cx="640" cy="65" rx="25.5" ry="11.4" fill="#ff2600" opacity="0.72"/>
<ellipse cx="745" cy="125" rx="30.2" ry="9.52" fill="#ff2600" opacity="0.63" transform="rotate(-5 745 125)"/>
<ellipse cx="900" cy="65" rx="11.4" ry="11.4" fill="#ff2600" opacity="0.63"/>
<ellipse cx="960" cy="70" rx="8.58" ry="34.9" fill="#ff2600" opacity="0.81" transform="rotate(40 960 70)"/>
<ellipse cx="825" cy="220" rx="9.52" ry="39.6" fill="#ff2600" opacity="1" transform="rotate(45 825 220)"/>
<ellipse cx="910" cy="270" rx="18.92" ry="20.8" fill="#ff2600" opacity="1"/>
<ellipse cx="885" cy="155" rx="171.2" ry="2.68" fill="#ff2600" opacity="0.45" transform="rotate(-50 885 155)"/>
<ellipse cx="955" cy="378" rx="17.04" ry="13.28" fill="#ff2600" opacity="0.54"/>
<ellipse cx="350" cy="405" rx="13.28" ry="13.28" fill="#ff2600" opacity="0.45"/>
<ellipse cx="165" cy="425" rx="17.04" ry="15.16" fill="#ff5c0a" opacity="0.63"/>
<ellipse cx="130" cy="400" rx="11.4" ry="11.4" fill="#ff2600" opacity="0.36"/>
<ellipse cx="220" cy="470" rx="28.32" ry="25.5" fill="#ff2600" opacity="0.81"/>
<ellipse cx="250" cy="515" rx="25.5" ry="17.04" fill="#ff3c00" opacity="0.81" transform="rotate(-20 250 515)"/>
<ellipse cx="185" cy="500" rx="15.16" ry="15.16" fill="#ff2600" opacity="0.54"/>
<ellipse cx="290" cy="560" rx="13.28" ry="13.28" fill="#ff2600" opacity="0.27"/>
<ellipse cx="480" cy="345" rx="25.5" ry="13.28" fill="#ff2600" opacity="0.36" transform="rotate(20 480 345)"/>
<ellipse cx="700" cy="515" rx="9.52" ry="58.4" fill="#ff2600" opacity="0.81" transform="rotate(55 700 515)"/>
<ellipse cx="540" cy="635" rx="11.4" ry="58.4" fill="#ff2600" opacity="1" transform="rotate(60 540 635)"/>
<ellipse cx="625" cy="620" rx="17.04" ry="17.04" fill="#ff2600" opacity="1"/>
<ellipse cx="410" cy="630" rx="20.8" ry="7.64" fill="#ff2600" opacity="0.63" transform="rotate(20 410 630)"/>
<ellipse cx="290" cy="568" rx="199.4" ry="2.68" fill="#ff2600" opacity="0.45" transform="rotate(23 290 568)"/>
<ellipse cx="720" cy="495" rx="147.7" ry="2.68" fill="#ff2600" opacity="0.45" transform="rotate(-38 720 495)"/>
<ellipse cx="880" cy="565" rx="15.16" ry="15.16" fill="#ff2600" opacity="0.72"/>
<ellipse cx="800" cy="590" rx="17.04" ry="25.5" fill="#a6e220" opacity="0.27"/>
<ellipse cx="25" cy="690" rx="15.16" ry="15.16" fill="#ff5c0a" opacity="0.54"/>
<ellipse cx="275" cy="745" rx="15.16" ry="11.4" fill="#3cf01e" opacity="0.45"/>
<ellipse cx="415" cy="745" rx="18.92" ry="18.92" fill="#ff3c00" opacity="0.36"/>
<ellipse cx="120" cy="810" rx="17.04" ry="20.8" fill="#ff3c00" opacity="0.72"/>
<ellipse cx="630" cy="825" rx="25.5" ry="34.9" fill="#a6e220" opacity="0.63"/>
<ellipse cx="625" cy="775" rx="9.52" ry="9.52" fill="#ff2600" opacity="0.54"/>
<ellipse cx="630" cy="740" rx="9.52" ry="17.04" fill="#3cf01e" opacity="0.27"/>
<ellipse cx="865" cy="705" rx="30.2" ry="18.92" fill="#ff3c00" opacity="0.63" transform="rotate(30 865 705)"/>
<ellipse cx="830" cy="975" rx="14.22" ry="34.9" fill="#ff2600" opacity="1" transform="rotate(10 830 975)"/>
<ellipse cx="905" cy="925" rx="11.4" ry="11.4" fill="#ff2600" opacity="0.45"/>
<ellipse cx="910" cy="845" rx="15.16" ry="15.16" fill="#ff2600" opacity="0.18"/>
<ellipse cx="435" cy="995" rx="20.8" ry="28.32" fill="#ff2600" opacity="1"/>
<ellipse cx="95" cy="1035" rx="12.34" ry="39.6" fill="#ff2600" opacity="1" transform="rotate(5 95 1035)"/>
<ellipse cx="90" cy="1085" rx="11.4" ry="11.4" fill="#e6c81e" opacity="0.36"/>
<ellipse cx="395" cy="1075" rx="13.28" ry="25.5" fill="#ff3c00" opacity="0.72" transform="rotate(15 395 1075)"/>
<ellipse cx="545" cy="1120" rx="34.9" ry="25.5" fill="#ff2600" opacity="0.81"/>
<ellipse cx="460" cy="1100" rx="39.6" ry="4.02" fill="#ff2600" opacity="0.45" transform="rotate(15 460 1100)"/>
<ellipse cx="695" cy="1035" rx="20.8" ry="30.2" fill="#3cf01e" opacity="0.72"/>
<ellipse cx="630" cy="965" rx="17.04" ry="25.5" fill="#b09a1c" opacity="0.36" transform="rotate(20 630 965)"/>
<ellipse cx="660" cy="1075" rx="11.4" ry="20.8" fill="#a6e220" opacity="0.36"/>
<ellipse cx="825" cy="1140" rx="17.04" ry="34.9" fill="#ff3c00" opacity="0.72"/>
<ellipse cx="995" cy="1060" rx="22.68" ry="39.6" fill="#ff3c00" opacity="0.72" transform="rotate(-5 995 1060)"/>
<ellipse cx="1175" cy="1085" rx="11.4" ry="44.3" fill="#ff2600" opacity="1" transform="rotate(35 1175 1085)"/>
<ellipse cx="1210" cy="1000" rx="4.02" ry="34.9" fill="#ff2600" opacity="0.54" transform="rotate(20 1210 1000)"/>
<ellipse cx="1120" cy="1055" rx="13.28" ry="13.28" fill="#ff2600" opacity="0.36"/>
<ellipse cx="970" cy="1165" rx="20.8" ry="22.68" fill="#b09a1c" opacity="0.63"/>
<ellipse cx="1030" cy="1155" rx="17.04" ry="25.5" fill="#a6e220" opacity="0.36"/>
<ellipse cx="1055" cy="1210" rx="20.8" ry="13.28" fill="#ff5c0a" opacity="0.63"/>
<ellipse cx="1330" cy="1165" rx="9.52" ry="34.9" fill="#ff2600" opacity="0.81" transform="rotate(-10 1330 1165)"/>
<ellipse cx="1330" cy="1045" rx="20.8" ry="20.8" fill="#ff2600" opacity="0.315"/>
<ellipse cx="1225" cy="1210" rx="11.4" ry="11.4" fill="#ff2600" opacity="0.36"/>
<ellipse cx="415" cy="1225" rx="25.5" ry="30.2" fill="#3cf01e" opacity="0.63"/>
<ellipse cx="155" cy="1255" rx="28.32" ry="30.2" fill="#ff3c00" opacity="0.63"/>
<ellipse cx="620" cy="1300" rx="15.16" ry="13.28" fill="#e6c81e" opacity="0.81"/>
<ellipse cx="255" cy="1325" rx="20.8" ry="13.28" fill="#f58c14" opacity="0.63" transform="rotate(20 255 1325)"/>
<ellipse cx="135" cy="1350" rx="25.5" ry="18.92" fill="#b09a1c" opacity="0.54"/>
<ellipse cx="180" cy="1395" rx="25.5" ry="15.16" fill="#ff5c0a" opacity="0.36" transform="rotate(-20 180 1395)"/>
<ellipse cx="395" cy="1430" rx="13.28" ry="22.68" fill="#f58c14" opacity="0.63"/>
<ellipse cx="500" cy="1465" rx="13.28" ry="18.92" fill="#a6e220" opacity="0.45"/>
<ellipse cx="30" cy="1430" rx="13.28" ry="13.28" fill="#3cf01e" opacity="0.27"/>
<ellipse cx="580" cy="1475" rx="39.6" ry="11.4" fill="#ff2600" opacity="0.54" transform="rotate(5 580 1475)"/>
<ellipse cx="725" cy="1475" rx="22.68" ry="15.16" fill="#ff5c0a" opacity="0.63"/>
<ellipse cx="320" cy="1505" rx="11.4" ry="11.4" fill="#ff2600" opacity="0.36"/>
<ellipse cx="260" cy="1510" rx="11.4" ry="11.4" fill="#ff2600" opacity="0.27"/>
<ellipse cx="960" cy="1370" rx="9.52" ry="39.6" fill="#ff3c00" opacity="0.63" transform="rotate(-30 960 1370)"/>
<ellipse cx="920" cy="1310" rx="4.02" ry="39.6" fill="#ff2600" opacity="0.36" transform="rotate(-15 920 1310)"/>
<ellipse cx="1020" cy="1580" rx="13.28" ry="22.68" fill="#ff3c00" opacity="0.72"/>
<ellipse cx="985" cy="1555" rx="17.04" ry="17.04" fill="#ff2600" opacity="0.45"/>
<ellipse cx="25" cy="1580" rx="11.4" ry="25.5" fill="#ff5c0a" opacity="0.54"/>
<ellipse cx="1195" cy="1470" rx="15.16" ry="18.92" fill="#ff5c0a" opacity="0.54"/>
<ellipse cx="1485" cy="1378" rx="18.92" ry="18.92" fill="#ff5c0a" opacity="0.81"/>
<ellipse cx="1330" cy="1340" rx="15.16" ry="20.8" fill="#ff2600" opacity="0.36"/>
<ellipse cx="1325" cy="1380" rx="20.8" ry="15.16" fill="#ff2600" opacity="0.36"/>
<ellipse cx="1160" cy="1610" rx="9.52" ry="9.52" fill="#ff2600" opacity="0.45"/>
<ellipse cx="1450" cy="1620" rx="11.4" ry="20.8" fill="#ff2600" opacity="0.36"/>
<ellipse cx="1465" cy="935" rx="22.68" ry="18.92" fill="#b09a1c" opacity="0.45"/>
<ellipse cx="1615" cy="950" rx="15.16" ry="18.92" fill="#3cf01e" opacity="0.36"/>
<ellipse cx="1280" cy="800" rx="22.68" ry="17.04" fill="#ff5c0a" opacity="0.72"/>
<ellipse cx="1130" cy="790" rx="17.04" ry="17.04" fill="#ff2600" opacity="0.27"/>
<ellipse cx="1310" cy="690" rx="15.16" ry="44.3" fill="#f58c14" opacity="0.72" transform="rotate(-20 1310 690)"/>
<ellipse cx="1340" cy="700" rx="7.64" ry="30.2" fill="#3cf01e" opacity="0.72" transform="rotate(-30 1340 700)"/>
<ellipse cx="1185" cy="668" rx="15.16" ry="17.04" fill="#3cf01e" opacity="0.63"/>
<ellipse cx="1510" cy="665" rx="18.92" ry="22.68" fill="#3cf01e" opacity="1"/>
<ellipse cx="1455" cy="680" rx="13.28" ry="28.32" fill="#f58c14" opacity="0.54" transform="rotate(30 1455 680)"/>
<ellipse cx="1410" cy="655" rx="13.28" ry="25.5" fill="#ff5c0a" opacity="0.72" transform="rotate(-30 1410 655)"/>
<ellipse cx="1385" cy="630" rx="11.4" ry="11.4" fill="#ff2600" opacity="0.45"/>
<ellipse cx="1250" cy="555" rx="17.04" ry="17.04" fill="#a6e220" opacity="0.72"/>
<ellipse cx="1540" cy="610" rx="17.04" ry="25.5" fill="#ff3c00" opacity="0.72"/>
<ellipse cx="1455" cy="600" rx="17.04" ry="17.04" fill="#ff3c00" opacity="0.54"/>
<ellipse cx="1625" cy="560" rx="17.04" ry="11.4" fill="#f58c14" opacity="0.45"/>
<ellipse cx="1660" cy="660" rx="11.4" ry="25.5" fill="#f58c14" opacity="0.63" transform="rotate(30 1660 660)"/>
<ellipse cx="1680" cy="625" rx="9.52" ry="17.04" fill="#a6e220" opacity="0.54"/>
<ellipse cx="1470" cy="765" rx="25.5" ry="11.4" fill="#ff5c0a" opacity="0.45" transform="rotate(-10 1470 765)"/>
<ellipse cx="1640" cy="775" rx="17.04" ry="13.28" fill="#3cf01e" opacity="0.81" transform="rotate(20 1640 775)"/>
<ellipse cx="1575" cy="795" rx="9.52" ry="9.52" fill="#ff2600" opacity="0.36"/>
<ellipse cx="1675" cy="795" rx="9.52" ry="9.52" fill="#3cf01e" opacity="0.36"/>
<ellipse cx="1100" cy="465" rx="17.04" ry="39.6" fill="#f58c14" opacity="0.54" transform="rotate(-25 1100 465)"/>
<ellipse cx="1005" cy="480" rx="11.4" ry="34.9" fill="#f58c14" opacity="0.45" transform="rotate(15 1005 480)"/>
<ellipse cx="1195" cy="428" rx="20.8" ry="7.64" fill="#3cf01e" opacity="0.54" transform="rotate(-10 1195 428)"/>
<ellipse cx="1145" cy="390" rx="22.68" ry="15.16" fill="#ff5c0a" opacity="0.72" transform="rotate(20 1145 390)"/>
<ellipse cx="1130" cy="320" rx="20.8" ry="13.28" fill="#ff5c0a" opacity="0.72" transform="rotate(15 1130 320)"/>
<ellipse cx="1105" cy="305" rx="11.4" ry="11.4" fill="#e6c81e" opacity="0.54"/>
<ellipse cx="1195" cy="295" rx="11.4" ry="11.4" fill="#ff2600" opacity="0.36"/>
<ellipse cx="1240" cy="365" rx="9.52" ry="9.52" fill="#ff2600" opacity="0.36"/>
<ellipse cx="1385" cy="375" rx="11.4" ry="30.2" fill="#f58c14" opacity="0.81"/>
<ellipse cx="1300" cy="320" rx="9.52" ry="25.5" fill="#a6e220" opacity="0.27" transform="rotate(10 1300 320)"/>
<ellipse cx="1350" cy="310" rx="15.16" ry="20.8" fill="#ff2600" opacity="0.18"/>
<ellipse cx="1475" cy="270" rx="25.5" ry="17.04" fill="#f58c14" opacity="0.54"/>
<ellipse cx="1560" cy="365" rx="18.92" ry="13.28" fill="#ff5c0a" opacity="0.54"/>
<ellipse cx="1540" cy="460" rx="22.68" ry="15.16" fill="#ff5c0a" opacity="0.54" transform="rotate(-20 1540 460)"/>
<ellipse cx="1650" cy="415" rx="30.2" ry="30.2" fill="#f58c14" opacity="0.54"/>
<ellipse cx="1665" cy="455" rx="15.16" ry="15.16" fill="#ff5c0a" opacity="0.45"/>
<ellipse cx="1655" cy="330" rx="9.52" ry="22.68" fill="#3cf01e" opacity="0.81"/>
<ellipse cx="1465" cy="455" rx="18.92" ry="11.4" fill="#3cf01e" opacity="0.63" transform="rotate(-35 1465 455)"/>
<ellipse cx="1405" cy="100" rx="22.68" ry="18.92" fill="#3cf01e" opacity="0.63" transform="rotate(35 1405 100)"/>
<ellipse cx="1380" cy="185" rx="25.5" ry="11.4" fill="#a6e220" opacity="0.54"/>
<ellipse cx="1100" cy="80" rx="20.8" ry="13.28" fill="#3cf01e" opacity="0.45"/>
<ellipse cx="1190" cy="45" rx="11.4" ry="11.4" fill="#3cf01e" opacity="0.18"/>
<ellipse cx="1620" cy="130" rx="15.16" ry="39.6" fill="#ff2600" opacity="0.27" transform="rotate(10 1620 130)"/>
<ellipse cx="1650" cy="80" rx="20.8" ry="20.8" fill="#ff2600" opacity="0.225"/>
<ellipse cx="1250" cy="150" rx="9.52" ry="9.52" fill="#ff2600" opacity="0.36"/>
<ellipse cx="60" cy="260" rx="11.4" ry="17.04" fill="#ff2600" opacity="0.27"/>
<ellipse cx="25" cy="285" rx="11.4" ry="11.4" fill="#ff2600" opacity="0.27"/>
<ellipse cx="290" cy="255" rx="9.52" ry="9.52" fill="#ff2600" opacity="0.27"/>
<ellipse cx="400" cy="130" rx="11.4" ry="11.4" fill="#ff2600" opacity="0.225"/>
<ellipse cx="590" cy="520" rx="9.52" ry="9.52" fill="#ff2600" opacity="0.27"/>
<ellipse cx="460" cy="590" rx="9.52" ry="9.52" fill="#ff2600" opacity="0.27"/>
<ellipse cx="1660" cy="1300" rx="11.4" ry="11.4" fill="#ff2600" opacity="0.36"/>
<ellipse cx="1580" cy="1410" rx="15.16" ry="9.52" fill="#ff2600" opacity="0.27"/>
<ellipse cx="1680" cy="1440" rx="7.64" ry="30.2" fill="#ff2600" opacity="0.36"/>
<ellipse cx="1640" cy="1650" rx="11.4" ry="11.4" fill="#e6c81e" opacity="0.27"/>
<ellipse cx="960" cy="1660" rx="9.52" ry="20.8" fill="#ff2600" opacity="0.27"/>
</g></svg>
<svg x="1583.5" y="535" width="520.5" height="520.5" viewBox="0 0 520.5 520.5">
<rect x="0" y="0" width="520.5" height="520.5" fill="url(#bgH)"/>
<g transform="scale(0.30769)" filter="url(#glow)">
<ellipse cx="970" cy="30" rx="58.4" ry="11.4" fill="#ff2600" opacity="0.81" transform="rotate(-20 970 30)"/>
<ellipse cx="850" cy="65" rx="20.8" ry="9.52" fill="#ff2600" opacity="0.54" transform="rotate(-15 850 65)"/>
<ellipse cx="1020" cy="65" rx="18.92" ry="15.16" fill="#3cf01e" opacity="0.54"/>
<ellipse cx="645" cy="120" rx="22.68" ry="11.4" fill="#ff2600" opacity="0.63"/>
<ellipse cx="335" cy="120" rx="11.4" ry="11.4" fill="#ff2600" opacity="0.36"/>
<ellipse cx="75" cy="180" rx="15.16" ry="11.4" fill="#f58c14" opacity="0.72"/>
<ellipse cx="30" cy="100" rx="13.28" ry="13.28" fill="#f58c14" opacity="0.36"/>
<ellipse cx="370" cy="190" rx="15.16" ry="20.8" fill="#f58c14" opacity="0.72"/>
<ellipse cx="770" cy="185" rx="11.4" ry="11.4" fill="#ff2600" opacity="0.36"/>
<ellipse cx="215" cy="245" rx="9.52" ry="9.52" fill="#ff2600" opacity="0.36"/>
<ellipse cx="835" cy="260" rx="18.92" ry="22.68" fill="#ff2600" opacity="0.81"/>
<ellipse cx="405" cy="335" rx="25.5" ry="13.28" fill="#ff2600" opacity="0.45" transform="rotate(20 405 335)"/>
<ellipse cx="360" cy="300" rx="11.4" ry="11.4" fill="#ff2600" opacity="0.36"/>
<ellipse cx="690" cy="365" rx="11.4" ry="49" fill="#ff2600" opacity="0.72" transform="rotate(20 690 365)"/>
<ellipse cx="880" cy="365" rx="18.92" ry="15.16" fill="#ff3c00" opacity="0.54"/>
<ellipse cx="1075" cy="290" rx="30.2" ry="9.52" fill="#ff3c00" opacity="0.72" transform="rotate(-35 1075 290)"/>
<ellipse cx="1160" cy="235" rx="39.6" ry="4.02" fill="#ff2600" opacity="0.45" transform="rotate(-35 1160 235)"/>
<ellipse cx="995" cy="330" rx="17.04" ry="25.5" fill="#f58c14" opacity="0.54" transform="rotate(-30 995 330)"/>
<ellipse cx="1305" cy="170" rx="28.32" ry="15.16" fill="#3cf01e" opacity="0.72" transform="rotate(15 1305 170)"/>
<ellipse cx="1610" cy="190" rx="11.4" ry="49" fill="#3cf01e" opacity="0.72" transform="rotate(40 1610 190)"/>
<ellipse cx="1530" cy="140" rx="13.28" ry="25.5" fill="#ff3c00" opacity="0.36"/>
<ellipse cx="1540" cy="80" rx="25.5" ry="25.5" fill="#ff2600" opacity="0.18"/>
<ellipse cx="1400" cy="265" rx="30.2" ry="18.92" fill="#a6e220" opacity="0.63"/>
<ellipse cx="1385" cy="300" rx="25.5" ry="9.52" fill="#ff5c0a" opacity="0.45" transform="rotate(-30 1385 300)"/>
<ellipse cx="1310" cy="355" rx="9.52" ry="34.9" fill="#3cf01e" opacity="0.81" transform="rotate(5 1310 355)"/>
<ellipse cx="1330" cy="385" rx="11.4" ry="20.8" fill="#ff3c00" opacity="0.54"/>
<ellipse cx="1485" cy="350" rx="22.68" ry="20.8" fill="#3cf01e" opacity="0.63"/>
<ellipse cx="1550" cy="380" rx="22.68" ry="30.2" fill="#b09a1c" opacity="0.54"/>
<ellipse cx="1365" cy="390" rx="9.52" ry="17.04" fill="#ff2600" opacity="0.63"/>
<ellipse cx="1150" cy="385" rx="15.16" ry="9.52" fill="#3cf01e" opacity="0.54" transform="rotate(-20 1150 385)"/>
<ellipse cx="1075" cy="390" rx="15.16" ry="30.2" fill="#ff5c0a" opacity="0.36"/>
<ellipse cx="1215" cy="380" rx="9.52" ry="25.5" fill="#f58c14" opacity="0.36"/>
<ellipse cx="1395" cy="440" rx="18.92" ry="13.28" fill="#3cf01e" opacity="0.81" transform="rotate(-35 1395 440)"/>
<ellipse cx="1460" cy="455" rx="22.68" ry="15.16" fill="#ff3c00" opacity="0.72" transform="rotate(-20 1460 455)"/>
<ellipse cx="1415" cy="490" rx="11.4" ry="11.4" fill="#ff5c0a" opacity="0.45"/>
<ellipse cx="1025" cy="455" rx="17.04" ry="39.6" fill="#f58c14" opacity="0.45" transform="rotate(-30 1025 455)"/>
<ellipse cx="955" cy="515" rx="15.16" ry="34.9" fill="#f58c14" opacity="0.45" transform="rotate(-10 955 515)"/>
<ellipse cx="65" cy="380" rx="11.4" ry="11.4" fill="#ff2600" opacity="0.36"/>
<ellipse cx="85" cy="420" rx="15.16" ry="15.16" fill="#ff5c0a" opacity="0.54"/>
<ellipse cx="270" cy="400" rx="11.4" ry="11.4" fill="#ff2600" opacity="0.45"/>
<ellipse cx="150" cy="460" rx="25.5" ry="28.32" fill="#ff5c0a" opacity="0.81"/>
<ellipse cx="160" cy="510" rx="20.8" ry="17.04" fill="#ff5c0a" opacity="0.81"/>
<ellipse cx="795" cy="485" rx="39.6" ry="9.52" fill="#ff2600" opacity="0.81" transform="rotate(-3 795 485)"/>
<ellipse cx="515" cy="530" rx="34.9" ry="18.92" fill="#ff2600" opacity="1" transform="rotate(-10 515 530)"/>
<ellipse cx="225" cy="565" rx="34.9" ry="9.52" fill="#ff2600" opacity="0.72"/>
<ellipse cx="400" cy="555" rx="77.2" ry="5.36" fill="#ff2600" opacity="0.45" transform="rotate(-5 400 555)"/>
<ellipse cx="650" cy="500" rx="77.2" ry="4.02" fill="#ff2600" opacity="0.45" transform="rotate(-10 650 500)"/>
<ellipse cx="715" cy="570" rx="17.04" ry="22.68" fill="#b09a1c" opacity="0.36"/>
<ellipse cx="800" cy="560" rx="15.16" ry="15.16" fill="#ff2600" opacity="0.54"/>
<ellipse cx="545" cy="610" rx="15.16" ry="15.16" fill="#ff2600" opacity="0.72"/>
<ellipse cx="810" cy="600" rx="9.52" ry="9.52" fill="#ff2600" opacity="0.54"/>
<ellipse cx="1170" cy="545" rx="17.04" ry="17.04" fill="#f58c14" opacity="0.63"/>
<ellipse cx="1305" cy="555" rx="11.4" ry="11.4" fill="#ff2600" opacity="0.36"/>
<ellipse cx="1545" cy="550" rx="15.16" ry="11.4" fill="#f58c14" opacity="0.36"/>
<ellipse cx="1215" cy="585" rx="7.64" ry="39.6" fill="#a6e220" opacity="0.63" transform="rotate(-10 1215 585)"/>
<ellipse cx="1385" cy="595" rx="15.16" ry="15.16" fill="#ff5c0a" opacity="0.63"/>
<ellipse cx="1460" cy="590" rx="17.04" ry="25.5" fill="#ff5c0a" opacity="0.72"/>
<ellipse cx="1600" cy="610" rx="13.28" ry="15.16" fill="#a6e220" opacity="0.54"/>
<ellipse cx="1110" cy="650" rx="17.04" ry="20.8" fill="#3cf01e" opacity="0.63"/>
<ellipse cx="1435" cy="655" rx="18.92" ry="18.92" fill="#3cf01e" opacity="1"/>
<ellipse cx="1330" cy="650" rx="17.04" ry="25.5" fill="#ff5c0a" opacity="0.63" transform="rotate(-30 1330 650)"/>
<ellipse cx="1385" cy="665" rx="11.4" ry="25.5" fill="#ff5c0a" opacity="0.54" transform="rotate(30 1385 665)"/>
<ellipse cx="1570" cy="655" rx="9.52" ry="25.5" fill="#a6e220" opacity="0.63" transform="rotate(25 1570 655)"/>
<ellipse cx="1235" cy="695" rx="17.04" ry="25.5" fill="#ff5c0a" opacity="0.81"/>
<ellipse cx="790" cy="705" rx="34.9" ry="15.16" fill="#ff3c00" opacity="0.63" transform="rotate(40 790 705)"/>
<ellipse cx="190" cy="730" rx="13.28" ry="11.4" fill="#a6e220" opacity="0.36"/>
<ellipse cx="325" cy="740" rx="18.92" ry="18.92" fill="#ff3c00" opacity="0.54"/>
<ellipse cx="555" cy="730" rx="9.52" ry="9.52" fill="#3cf01e" opacity="0.27"/>
<ellipse cx="35" cy="805" rx="15.16" ry="22.68" fill="#ff3c00" opacity="0.54" transform="rotate(-20 35 805)"/>
<ellipse cx="550" cy="810" rx="25.5" ry="34.9" fill="#a6e220" opacity="0.72"/>
<ellipse cx="700" cy="790" rx="11.4" ry="53.7" fill="#ff2600" opacity="0.81" transform="rotate(5 700 790)"/>
<ellipse cx="740" cy="795" rx="17.04" ry="17.04" fill="#b09a1c" opacity="0.27"/>
<ellipse cx="1180" cy="795" rx="15.16" ry="18.92" fill="#f58c14" opacity="0.54"/>
<ellipse cx="1220" cy="795" rx="17.04" ry="11.4" fill="#ff5c0a" opacity="0.54"/>
<ellipse cx="1050" cy="780" rx="20.8" ry="20.8" fill="#ff2600" opacity="0.27"/>
<ellipse cx="1360" cy="745" rx="17.04" ry="15.16" fill="#ff3c00" opacity="0.45"/>
<ellipse cx="1390" cy="745" rx="13.28" ry="13.28" fill="#a6e220" opacity="0.45"/>
<ellipse cx="1570" cy="770" rx="13.28" ry="9.52" fill="#3cf01e" opacity="0.81"/>
<ellipse cx="1495" cy="780" rx="9.52" ry="9.52" fill="#ff2600" opacity="0.45"/>
<ellipse cx="120" cy="910" rx="39.6" ry="11.4" fill="#ff2600" opacity="0.81" transform="rotate(-10 120 910)"/>
<ellipse cx="585" cy="940" rx="13.28" ry="18.92" fill="#ff3c00" opacity="0.45"/>
<ellipse cx="825" cy="915" rx="11.4" ry="11.4" fill="#ff2600" opacity="0.36"/>
<ellipse cx="835" cy="830" rx="13.28" ry="18.92" fill="#ff5c0a" opacity="0.27"/>
<ellipse cx="1390" cy="925" rx="18.92" ry="20.8" fill="#b09a1c" opacity="0.45"/>
<ellipse cx="1540" cy="940" rx="15.16" ry="15.16" fill="#3cf01e" opacity="0.36"/>
<ellipse cx="345" cy="985" rx="20.8" ry="25.5" fill="#ff5c0a" opacity="0.72" transform="rotate(-20 345 985)"/>
<ellipse cx="630" cy="1030" rx="25.5" ry="30.2" fill="#3cf01e" opacity="1"/>
<ellipse cx="580" cy="1050" rx="11.4" ry="20.8" fill="#ff5c0a" opacity="0.36"/>
<ellipse cx="725" cy="1075" rx="15.16" ry="34.9" fill="#ff3c00" opacity="0.72" transform="rotate(25 725 1075)"/>
<ellipse cx="910" cy="1035" rx="17.04" ry="44.3" fill="#ff3c00" opacity="0.63" transform="rotate(-10 910 1035)"/>
<ellipse cx="1200" cy="1060" rx="13.28" ry="58.4" fill="#ff2600" opacity="0.81" transform="rotate(55 1200 1060)"/>
<ellipse cx="1130" cy="1120" rx="4.02" ry="30.2" fill="#ff2600" opacity="0.54" transform="rotate(50 1130 1120)"/>
<ellipse cx="1270" cy="990" rx="4.02" ry="39.6" fill="#ff2600" opacity="0.45" transform="rotate(50 1270 990)"/>
<ellipse cx="1265" cy="1030" rx="11.4" ry="17.04" fill="#ff3c00" opacity="0.45"/>
<ellipse cx="1040" cy="1045" rx="13.28" ry="13.28" fill="#ff2600" opacity="0.27"/>
<ellipse cx="290" cy="1135" rx="15.16" ry="18.92" fill="#e6c81e" opacity="1"/>
<ellipse cx="430" cy="1135" rx="9.52" ry="39.6" fill="#ff2600" opacity="0.81" transform="rotate(-10 430 1135)"/>
<ellipse cx="400" cy="1040" rx="4.02" ry="58.4" fill="#ff2600" opacity="0.45" transform="rotate(-15 400 1040)"/>
<ellipse cx="890" cy="1155" rx="20.8" ry="25.5" fill="#a6e220" opacity="0.54"/>
<ellipse cx="955" cy="1145" rx="17.04" ry="22.68" fill="#b09a1c" opacity="0.45"/>
<ellipse cx="970" cy="1215" rx="15.16" ry="15.16" fill="#ff5c0a" opacity="0.45"/>
<ellipse cx="340" cy="1210" rx="30.2" ry="34.9" fill="#3cf01e" opacity="0.63"/>
<ellipse cx="440" cy="1240" rx="15.16" ry="15.16" fill="#e6c81e" opacity="0.81"/>
<ellipse cx="70" cy="1235" rx="25.5" ry="30.2" fill="#ff3c00" opacity="0.54"/>
<ellipse cx="1175" cy="1275" rx="13.28" ry="22.68" fill="#ff3c00" opacity="0.81"/>
<ellipse cx="1145" cy="1200" rx="9.52" ry="9.52" fill="#ff2600" opacity="0.36"/>
<ellipse cx="170" cy="1315" rx="17.04" ry="13.28" fill="#f58c14" opacity="0.63"/>
<ellipse cx="35" cy="1350" rx="25.5" ry="18.92" fill="#b09a1c" opacity="0.45"/>
<ellipse cx="65" cy="1395" rx="25.5" ry="11.4" fill="#ff2600" opacity="0.27"/>
<ellipse cx="505" cy="1345" rx="9.52" ry="44.3" fill="#ff2600" opacity="0.81" transform="rotate(-20 505 1345)"/>
<ellipse cx="470" cy="1280" rx="4.02" ry="39.6" fill="#ff2600" opacity="0.45" transform="rotate(-20 470 1280)"/>
<ellipse cx="540" cy="1440" rx="4.02" ry="58.4" fill="#ff2600" opacity="0.36" transform="rotate(-10 540 1440)"/>
<ellipse cx="845" cy="1305" rx="13.28" ry="30.2" fill="#a6e220" opacity="0.63" transform="rotate(-15 845 1305)"/>
<ellipse cx="885" cy="1380" rx="4.02" ry="49" fill="#ff5c0a" opacity="0.36" transform="rotate(-30 885 1380)"/>
<ellipse cx="1410" cy="1380" rx="17.04" ry="17.04" fill="#ff5c0a" opacity="0.81"/>
<ellipse cx="1250" cy="1335" rx="15.16" ry="18.92" fill="#ff2600" opacity="0.36"/>
<ellipse cx="1245" cy="1385" rx="15.16" ry="15.16" fill="#ff2600" opacity="0.27"/>
<ellipse cx="1070" cy="1350" rx="11.4" ry="11.4" fill="#ff2600" opacity="0.27"/>
<ellipse cx="430" cy="1415" rx="22.68" ry="30.2" fill="#a6e220" opacity="0.54"/>
<ellipse cx="315" cy="1455" rx="11.4" ry="39.6" fill="#a6e220" opacity="0.54" transform="rotate(20 315 1455)"/>
<ellipse cx="635" cy="1470" rx="20.8" ry="15.16" fill="#ff5c0a" opacity="0.36" transform="rotate(30 635 1470)"/>
<ellipse cx="1105" cy="1460" rx="20.8" ry="17.04" fill="#f58c14" opacity="0.54"/>
<ellipse cx="1085" cy="1415" rx="9.52" ry="9.52" fill="#ff2600" opacity="0.45"/>
<ellipse cx="1620" cy="1460" rx="11.4" ry="22.68" fill="#f58c14" opacity="0.72"/>
<ellipse cx="1525" cy="1410" rx="11.4" ry="11.4" fill="#ff2600" opacity="0.27"/>
<ellipse cx="940" cy="1585" rx="15.16" ry="15.16" fill="#f58c14" opacity="0.72"/>
<ellipse cx="905" cy="1550" rx="15.16" ry="15.16" fill="#ff2600" opacity="0.36"/>
<ellipse cx="525" cy="1620" rx="25.5" ry="9.52" fill="#ff2600" opacity="0.45"/>
<ellipse cx="1365" cy="1635" rx="18.92" ry="18.92" fill="#ff3c00" opacity="0.72"/>
<ellipse cx="1565" cy="1640" rx="13.28" ry="17.04" fill="#a6e220" opacity="0.36"/>
<ellipse cx="165" cy="1500" rx="13.28" ry="13.28" fill="#ff2600" opacity="0.27"/>
<ellipse cx="245" cy="1500" rx="13.28" ry="13.28" fill="#ff2600" opacity="0.27"/>
<ellipse cx="375" cy="1665" rx="9.52" ry="9.52" fill="#ff2600" opacity="0.36"/>
<ellipse cx="785" cy="540" rx="9.52" ry="9.52" fill="#ff2600" opacity="0.45"/>
<ellipse cx="1345" cy="10" rx="11.4" ry="7.64" fill="#3cf01e" opacity="0.45"/>
<ellipse cx="705" cy="660" rx="2.68" ry="67.8" fill="#ff2600" opacity="0.45" transform="rotate(5 705 660)"/>
<ellipse cx="690" cy="880" rx="2.68" ry="44.3" fill="#ff2600" opacity="0.36" transform="rotate(10 690 880)"/>
</g></svg>
<text class="w" transform="translate(17.4 56.5) scale(1 1.05)" font-size="49" text-anchor="start">A</text>
<text class="w" transform="translate(547.4 56.5) scale(1 1.05)" font-size="49" text-anchor="start">B</text>
<text class="w" transform="translate(1072.4 56.5) scale(1 1.05)" font-size="49" text-anchor="start">C</text>
<text class="w" transform="translate(1597.9 56.5) scale(1 1.05)" font-size="49" text-anchor="start">D</text>
<text class="w" transform="translate(16.4 586.1) scale(1 1.05)" font-size="49" text-anchor="start">E</text>
<text class="w" transform="translate(547.2 586.1) scale(1 1.05)" font-size="49" text-anchor="start">F</text>
<text class="w" transform="translate(1073.9 586.1) scale(1 1.05)" font-size="49" text-anchor="start">G</text>
<text class="w" transform="translate(1598.4 586.1) scale(1 1.05)" font-size="49" text-anchor="start">H</text>
<text class="w" transform="translate(530.7 56.5) scale(1 1.05)" font-size="49" text-anchor="end">Control</text>
<text class="w" transform="translate(530.7 585.4) scale(1 1.05)" font-size="49" text-anchor="end">IFNγ+LPS</text>
<text class="w" transform="translate(520.7 513.5) scale(1 1.05)" font-size="49" text-anchor="end">0 h</text>
<text class="w" transform="translate(1048.2 513.5) scale(1 1.05)" font-size="49" text-anchor="end">6 h</text>
<text class="w" transform="translate(1571.2 513.5) scale(1 1.05)" font-size="49" text-anchor="end">12 h</text>
<text class="w" transform="translate(2098.2 513.5) scale(1 1.05)" font-size="49" text-anchor="end">24 h</text>
<text class="w" transform="translate(520.7 1037.9) scale(1 1.05)" font-size="49" text-anchor="end">0 h</text>
<text class="w" transform="translate(1048.2 1037.9) scale(1 1.05)" font-size="49" text-anchor="end">6 h</text>
<text class="w" transform="translate(1571.2 1037.9) scale(1 1.05)" font-size="49" text-anchor="end">12 h</text>
<text class="w" transform="translate(2098.2 1037.9) scale(1 1.05)" font-size="49" text-anchor="end">24 h</text>
<rect x="19" y="498" width="177" height="4" fill="#fff"/>
<g stroke="#222" stroke-width="2" fill="none">
<line x1="184" y1="1157.5" x2="184" y2="1549.3"/>
<line x1="172" y1="1546.3" x2="579" y2="1546.3"/>
<line x1="172" y1="1468.84" x2="184" y2="1468.84"/>
<line x1="172" y1="1391.38" x2="184" y2="1391.38"/>
<line x1="172" y1="1313.92" x2="184" y2="1313.92"/>
<line x1="172" y1="1236.46" x2="184" y2="1236.46"/>
<line x1="172" y1="1159" x2="184" y2="1159"/>
<line x1="227.6" y1="1546.3" x2="227.6" y2="1563.8"/>
<line x1="329.2" y1="1546.3" x2="329.2" y2="1563.8"/>
<line x1="430.7" y1="1546.3" x2="430.7" y2="1563.8"/>
<line x1="531.8" y1="1546.3" x2="531.8" y2="1563.8"/>
</g>
<text class="k" x="171.8" y="1556.1" font-size="33.2" text-anchor="end">0</text>
<text class="k" x="171.8" y="1479.95" font-size="33.2" text-anchor="end">500</text>
<text class="k" x="171.8" y="1403.8" font-size="33.2" text-anchor="end">1,000</text>
<text class="k" x="171.8" y="1327.65" font-size="33.2" text-anchor="end">1,500</text>
<text class="k" x="171.8" y="1251.5" font-size="33.2" text-anchor="end">2,000</text>
<text class="k" x="171.8" y="1175.35" font-size="33.2" text-anchor="end">2,500</text>
<rect x="195.8" y="1223.5" width="25.8" height="321.8" fill="#00c000"/>
<rect x="234.2" y="1194" width="25.8" height="351.3" fill="#f94040"/>
<rect x="297.3" y="1349" width="25.7" height="196.3" fill="#00c000"/>
<rect x="335.6" y="1400" width="25.6" height="145.3" fill="#f94040"/>
<rect x="398.9" y="1302.6" width="25.7" height="242.7" fill="#00c000"/>
<rect x="437.3" y="1231" width="25.7" height="314.3" fill="#f94040"/>
<rect x="500.4" y="1217.8" width="25.6" height="327.5" fill="#00c000"/>
<rect x="538.6" y="1311" width="25.6" height="234.3" fill="#f94040"/>
<g stroke="#111" stroke-width="1.6" fill="none">
<path d="M202.5 1215.15H214.9M202.5 1231.82H214.9M208.7 1215.15V1231.82"/>
<path d="M240.9 1182.58H253.3M240.9 1206.44H253.3M247.1 1182.58V1206.44"/>
<path d="M303.95 1329.17H316.35M303.95 1369.32H316.35M310.15 1329.17V1369.32"/>
<path d="M342.2 1390.15H354.6M342.2 1410.23H354.6M348.4 1390.15V1410.23"/>
<path d="M405.55 1288.64H417.95M405.55 1316.67H417.95M411.75 1288.64V1316.67"/>
<path d="M443.95 1217.05H456.35M443.95 1245.45H456.35M450.15 1217.05V1245.45"/>
<path d="M507 1204.17H519.4M507 1231.82H519.4M513.2 1204.17V1231.82"/>
<path d="M545.2 1299.62H557.6M545.2 1321.97H557.6M551.4 1299.62V1321.97"/>
</g>
<rect x="310.606" y="1308.05" width="40.5303" height="3.6" fill="#111"/>
<text class="k" transform="translate(328.788 1311.32) scale(1 0.83)" font-size="48" text-anchor="middle">*</text>
<rect x="407.955" y="1203.88" width="40.9091" height="3.6" fill="#111"/>
<text class="k" transform="translate(428.409 1207.16) scale(1 0.83)" font-size="48" text-anchor="middle">***</text>
<rect x="515.909" y="1187.22" width="40.1515" height="3.6" fill="#111"/>
<text class="k" transform="translate(534.091 1187.46) scale(1 0.83)" font-size="48" text-anchor="middle">***</text>
<text class="k" x="224.1" y="1593.7" font-size="32" text-anchor="middle">No</text>
<text class="k" x="228.1" y="1632" font-size="33" text-anchor="middle">MCM</text>
<text class="k" x="330.2" y="1593.7" font-size="32" text-anchor="middle">3 h</text>
<text class="k" x="431.7" y="1593.7" font-size="32" text-anchor="middle">24 h</text>
<text class="k" x="532.8" y="1593.7" font-size="32" text-anchor="middle">48 h</text>
<rect x="302" y="1595.8" width="267.3" height="1.6" fill="#222"/>
<text class="k" x="433.7" y="1632" font-size="33" text-anchor="middle">MCM</text>
<text class="k" x="0" y="0" font-size="28.5" text-anchor="middle" transform="translate(43.5 1355.5) rotate(-90)">Area under curve</text>
<text class="k" x="0" y="0" font-size="28.5" text-anchor="middle" transform="translate(77.5 1355.5) rotate(-90)">(%DsRed phagocytic cells x h)</text>
<text class="k" x="29" y="1119" font-size="47" text-anchor="start">I</text>
<g stroke="#222" stroke-width="2" fill="none">
<line x1="948.3" y1="1157.5" x2="948.3" y2="1549.3"/>
<line x1="936.3" y1="1546.3" x2="1343" y2="1546.3"/>
<line x1="936.3" y1="1468.84" x2="948.3" y2="1468.84"/>
<line x1="936.3" y1="1391.38" x2="948.3" y2="1391.38"/>
<line x1="936.3" y1="1313.92" x2="948.3" y2="1313.92"/>
<line x1="936.3" y1="1236.46" x2="948.3" y2="1236.46"/>
<line x1="936.3" y1="1159" x2="948.3" y2="1159"/>
<line x1="994.5" y1="1546.3" x2="994.5" y2="1563.8"/>
<line x1="1094.5" y1="1546.3" x2="1094.5" y2="1563.8"/>
<line x1="1194.9" y1="1546.3" x2="1194.9" y2="1563.8"/>
<line x1="1294.5" y1="1546.3" x2="1294.5" y2="1563.8"/>
</g>
<text class="k" x="936.1" y="1556.1" font-size="33.2" text-anchor="end">0</text>
<text class="k" x="936.1" y="1479.95" font-size="33.2" text-anchor="end">500</text>
<text class="k" x="936.1" y="1403.8" font-size="33.2" text-anchor="end">1,000</text>
<text class="k" x="936.1" y="1327.65" font-size="33.2" text-anchor="end">1,500</text>
<text class="k" x="936.1" y="1251.5" font-size="33.2" text-anchor="end">2,000</text>
<text class="k" x="936.1" y="1175.35" font-size="33.2" text-anchor="end">2,500</text>
<rect x="955.209" y="1223.48" width="15.4939" height="321.815" fill="#00c000"/>
<rect x="976.8" y="1231.06" width="15.1152" height="314.239" fill="#58a2fa"/>
<rect x="998.012" y="1167.05" width="15.1152" height="378.255" fill="#1098b2"/>
<rect x="1019.6" y="1219.32" width="15.4939" height="325.982" fill="#0000fc"/>
<rect x="1054.83" y="1349.24" width="15.8727" height="196.058" fill="#00c000"/>
<rect x="1076.42" y="1356.82" width="15.4939" height="188.482" fill="#58a2fa"/>
<rect x="1098.01" y="1277.27" width="15.4939" height="268.027" fill="#1098b2"/>
<rect x="1119.22" y="1307.58" width="15.4939" height="237.724" fill="#0000fc"/>
<rect x="1154.83" y="1302.65" width="15.4939" height="242.648" fill="#00c000"/>
<rect x="1176.42" y="1250" width="15.4939" height="295.3" fill="#58a2fa"/>
<rect x="1198.01" y="1237.5" width="15.4939" height="307.8" fill="#1098b2"/>
<rect x="1219.22" y="1230.3" width="15.4939" height="314.997" fill="#0000fc"/>
<rect x="1254.83" y="1217.8" width="15.4939" height="327.497" fill="#00c000"/>
<rect x="1276.42" y="1242.8" width="15.4939" height="302.497" fill="#58a2fa"/>
<rect x="1298.01" y="1225.76" width="15.4939" height="319.542" fill="#1098b2"/>
<rect x="1319.22" y="1237.5" width="15.4939" height="307.8" fill="#0000fc"/>
<g stroke="#111" stroke-width="1.6" fill="none">
<path d="M958.756 1215.15H967.156M958.756 1231.82H967.156M962.956 1215.15V1231.82"/>
<path d="M980.158 1222.35H988.558M980.158 1240.53H988.558M984.358 1222.35V1240.53"/>
<path d="M1001.37 1160.23H1009.77M1001.37 1173.86H1009.77M1005.57 1160.23V1173.86"/>
<path d="M1023.15 1212.5H1031.55M1023.15 1226.52H1031.55M1027.35 1212.5V1226.52"/>
<path d="M1058.57 1329.17H1066.97M1058.57 1369.32H1066.97M1062.77 1329.17V1369.32"/>
<path d="M1079.97 1341.29H1088.37M1079.97 1372.35H1088.37M1084.17 1341.29V1372.35"/>
<path d="M1101.56 1261.36H1109.96M1101.56 1292.42H1109.96M1105.76 1261.36V1292.42"/>
<path d="M1122.77 1293.94H1131.17M1122.77 1321.21H1131.17M1126.97 1293.94V1321.21"/>
<path d="M1158.38 1288.64H1166.78M1158.38 1316.67H1166.78M1162.58 1288.64V1316.67"/>
<path d="M1179.97 1235.98H1188.37M1179.97 1264.02H1188.37M1184.17 1235.98V1264.02"/>
<path d="M1201.56 1225H1209.96M1201.56 1250H1209.96M1205.76 1225V1250"/>
<path d="M1222.77 1218.18H1231.17M1222.77 1242.8H1231.17M1226.97 1218.18V1242.8"/>
<path d="M1258.38 1204.17H1266.78M1258.38 1231.82H1266.78M1262.58 1204.17V1231.82"/>
<path d="M1279.97 1226.89H1288.37M1279.97 1258.71H1288.37M1284.17 1226.89V1258.71"/>
<path d="M1301.56 1210.23H1309.96M1301.56 1240.15H1309.96M1305.76 1210.23V1240.15"/>
<path d="M1322.77 1223.11H1331.17M1322.77 1251.52H1331.17M1326.97 1223.11V1251.52"/>
</g>
<rect x="963.485" y="1084.56" width="37.8788" height="3.6" fill="#111"/>
<text class="k" transform="translate(981.667 1087.84) scale(1 0.83)" font-size="48" text-anchor="middle">**</text>
<rect x="1008.94" y="1113.73" width="21.9697" height="3.6" fill="#111"/>
<text class="k" transform="translate(1019.17 1119.28) scale(1 0.83)" font-size="48" text-anchor="middle">**</text>
<rect x="983.561" y="1148.58" width="22.7273" height="3.6" fill="#111"/>
<text class="k" transform="translate(997.576 1150.34) scale(1 0.83)" font-size="48" text-anchor="middle">***</text>
<rect x="1062.73" y="1123.96" width="62.5" height="3.6" fill="#111"/>
<text class="k" transform="translate(1094.92 1125.72) scale(1 0.83)" font-size="48" text-anchor="middle">*</text>
<rect x="1085.45" y="1167.14" width="39.7727" height="3.6" fill="#111"/>
<text class="k" transform="translate(1103.64 1166.25) scale(1 0.83)" font-size="48" text-anchor="middle">**</text>
<rect x="1063.86" y="1210.7" width="39.0152" height="3.6" fill="#111"/>
<text class="k" transform="translate(1081.67 1210.95) scale(1 0.83)" font-size="48" text-anchor="middle">***</text>
<rect x="1083.94" y="1250.09" width="19.697" height="3.6" fill="#111"/>
<text class="k" transform="translate(1094.17 1254.51) scale(1 0.83)" font-size="48" text-anchor="middle">***</text>
<rect x="1163.48" y="1123.96" width="62.5" height="3.6" fill="#111"/>
<text class="k" transform="translate(1195.68 1125.72) scale(1 0.83)" font-size="48" text-anchor="middle">***</text>
<rect x="1164.24" y="1165.62" width="39.3939" height="3.6" fill="#111"/>
<text class="k" transform="translate(1183.18 1164.73) scale(1 0.83)" font-size="48" text-anchor="middle">***</text>
<rect x="1163.11" y="1223.58" width="20.0758" height="3.6" fill="#111"/>
<text class="k" transform="translate(1171.82 1225.34) scale(1 0.83)" font-size="48" text-anchor="middle">**</text>
<text class="k" x="991" y="1593.7" font-size="32" text-anchor="middle">No</text>
<text class="k" x="995" y="1632" font-size="33" text-anchor="middle">MCM</text>
<text class="k" x="1095.5" y="1593.7" font-size="32" text-anchor="middle">3 h</text>
<text class="k" x="1195.9" y="1593.7" font-size="32" text-anchor="middle">24 h</text>
<text class="k" x="1295.5" y="1593.7" font-size="32" text-anchor="middle">48 h</text>
<rect x="1062.7" y="1595.8" width="267.1" height="1.6" fill="#222"/>
<text class="k" x="1193.8" y="1632" font-size="33" text-anchor="middle">MCM</text>
<text class="k" x="0" y="0" font-size="28.5" text-anchor="middle" transform="translate(801.5 1355.5) rotate(-90)">Area under curve</text>
<text class="k" x="0" y="0" font-size="28.5" text-anchor="middle" transform="translate(835.5 1355.5) rotate(-90)">(%DsRed phagocytic cells x h)</text>
<text class="k" x="785" y="1119" font-size="47" text-anchor="start">J</text>
<g stroke="#222" stroke-width="2" fill="none">
<line x1="1710.6" y1="1157.5" x2="1710.6" y2="1549.3"/>
<line x1="1698.6" y1="1546.3" x2="2105" y2="1546.3"/>
<line x1="1698.6" y1="1468.84" x2="1710.6" y2="1468.84"/>
<line x1="1698.6" y1="1391.38" x2="1710.6" y2="1391.38"/>
<line x1="1698.6" y1="1313.92" x2="1710.6" y2="1313.92"/>
<line x1="1698.6" y1="1236.46" x2="1710.6" y2="1236.46"/>
<line x1="1698.6" y1="1159" x2="1710.6" y2="1159"/>
<line x1="1756" y1="1546.3" x2="1756" y2="1563.8"/>
<line x1="1856.3" y1="1546.3" x2="1856.3" y2="1563.8"/>
<line x1="1956.3" y1="1546.3" x2="1956.3" y2="1563.8"/>
<line x1="2056" y1="1546.3" x2="2056" y2="1563.8"/>
</g>
<text class="k" x="1698.4" y="1556.1" font-size="33.2" text-anchor="end">0</text>
<text class="k" x="1698.4" y="1479.95" font-size="33.2" text-anchor="end">500</text>
<text class="k" x="1698.4" y="1403.8" font-size="33.2" text-anchor="end">1,000</text>
<text class="k" x="1698.4" y="1327.65" font-size="33.2" text-anchor="end">1,500</text>
<text class="k" x="1698.4" y="1251.5" font-size="33.2" text-anchor="end">2,000</text>
<text class="k" x="1698.4" y="1175.35" font-size="33.2" text-anchor="end">2,500</text>
<rect x="1716.98" y="1193.94" width="15.4939" height="351.361" fill="#f94040"/>
<rect x="1738.19" y="1259.47" width="15.4939" height="285.83" fill="#f99a3c"/>
<rect x="1759.78" y="1264.02" width="15.1152" height="281.285" fill="#f048d0"/>
<rect x="1781.38" y="1207.58" width="14.7364" height="337.724" fill="#000000"/>
<rect x="1816.6" y="1400.38" width="15.4939" height="144.921" fill="#f94040"/>
<rect x="1838.57" y="1442.42" width="15.1152" height="102.876" fill="#f99a3c"/>
<rect x="1859.78" y="1381.82" width="15.4939" height="163.482" fill="#f048d0"/>
<rect x="1881" y="1402.27" width="15.1152" height="143.027" fill="#000000"/>
<rect x="1916.98" y="1231.06" width="15.1152" height="314.239" fill="#f94040"/>
<rect x="1938.19" y="1259.47" width="15.4939" height="285.83" fill="#f99a3c"/>
<rect x="1959.78" y="1257.58" width="15.4939" height="287.724" fill="#f048d0"/>
<rect x="1981.38" y="1303.03" width="15.1152" height="242.27" fill="#000000"/>
<rect x="2016.6" y="1310.98" width="15.4939" height="234.315" fill="#f94040"/>
<rect x="2038.19" y="1264.39" width="15.4939" height="280.906" fill="#f99a3c"/>
<rect x="2059.78" y="1208.33" width="15.4939" height="336.967" fill="#f048d0"/>
<rect x="2081" y="1250.76" width="15.4939" height="294.542" fill="#000000"/>
<g stroke="#111" stroke-width="1.6" fill="none">
<path d="M1720.53 1182.58H1728.93M1720.53 1206.44H1728.93M1724.73 1182.58V1206.44"/>
<path d="M1741.74 1245.45H1750.14M1741.74 1273.11H1750.14M1745.94 1245.45V1273.11"/>
<path d="M1763.14 1254.92H1771.54M1763.14 1273.48H1771.54M1767.34 1254.92V1273.48"/>
<path d="M1784.54 1195.83H1792.94M1784.54 1219.32H1792.94M1788.74 1195.83V1219.32"/>
<path d="M1820.15 1390.15H1828.55M1820.15 1410.23H1828.55M1824.35 1390.15V1410.23"/>
<path d="M1841.93 1429.92H1850.33M1841.93 1454.55H1850.33M1846.13 1429.92V1454.55"/>
<path d="M1863.33 1372.73H1871.73M1863.33 1390.91H1871.73M1867.53 1372.73V1390.91"/>
<path d="M1884.35 1392.05H1892.75M1884.35 1412.5H1892.75M1888.55 1392.05V1412.5"/>
<path d="M1920.34 1217.05H1928.74M1920.34 1245.45H1928.74M1924.54 1217.05V1245.45"/>
<path d="M1941.74 1243.18H1950.14M1941.74 1274.62H1950.14M1945.94 1243.18V1274.62"/>
<path d="M1963.33 1240.53H1971.73M1963.33 1274.62H1971.73M1967.53 1240.53V1274.62"/>
<path d="M1984.73 1287.12H1993.13M1984.73 1318.94H1993.13M1988.93 1287.12V1318.94"/>
<path d="M2020.15 1299.62H2028.55M2020.15 1321.97H2028.55M2024.35 1299.62V1321.97"/>
<path d="M2041.74 1254.17H2050.14M2041.74 1274.62H2050.14M2045.94 1254.17V1274.62"/>
<path d="M2063.33 1198.11H2071.73M2063.33 1218.56H2071.73M2067.53 1198.11V1218.56"/>
<path d="M2084.54 1239.02H2092.94M2084.54 1262.12H2092.94M2088.74 1239.02V1262.12"/>
</g>
<rect x="1745.33" y="1093.65" width="39.7727" height="3.6" fill="#111"/>
<text class="k" transform="translate(1763.52 1101.1) scale(1 0.83)" font-size="48" text-anchor="middle">**</text>
<rect x="1722.61" y="1125.09" width="39.7727" height="3.6" fill="#111"/>
<text class="k" transform="translate(1741.55 1132.54) scale(1 0.83)" font-size="48" text-anchor="middle">***</text>
<rect x="1723.36" y="1159.18" width="20.0758" height="3.6" fill="#111"/>
<text class="k" transform="translate(1733.21 1161.7) scale(1 0.83)" font-size="48" text-anchor="middle">***</text>
<rect x="1766.92" y="1179.64" width="21.2121" height="3.6" fill="#111"/>
<text class="k" transform="translate(1777.53 1181.78) scale(1 0.83)" font-size="48" text-anchor="middle">**</text>
<rect x="1846.47" y="1284.18" width="39.7727" height="3.6" fill="#111"/>
<text class="k" transform="translate(1864.65 1287.84) scale(1 0.83)" font-size="48" text-anchor="middle">*</text>
<rect x="1843.82" y="1330.4" width="20.8333" height="3.6" fill="#111"/>
<text class="k" transform="translate(1854.05 1332.92) scale(1 0.83)" font-size="48" text-anchor="middle">***</text>
<rect x="1822.23" y="1372.06" width="20.8333" height="3.6" fill="#111"/>
<text class="k" transform="translate(1832.45 1374.96) scale(1 0.83)" font-size="48" text-anchor="middle">*</text>
<rect x="1925.26" y="1137.97" width="62.5" height="3.6" fill="#111"/>
<text class="k" transform="translate(1957.45 1140.11) scale(1 0.83)" font-size="48" text-anchor="middle">***</text>
<rect x="1946.09" y="1176.99" width="39.0152" height="3.6" fill="#111"/>
<text class="k" transform="translate(1964.27 1177.61) scale(1 0.83)" font-size="48" text-anchor="middle">**</text>
<rect x="1968.06" y="1214.87" width="20.4545" height="3.6" fill="#111"/>
<text class="k" transform="translate(1977.53 1217.76) scale(1 0.83)" font-size="48" text-anchor="middle">**</text>
<rect x="2024.5" y="1084.18" width="62.8788" height="3.6" fill="#111"/>
<text class="k" transform="translate(2057.08 1093.52) scale(1 0.83)" font-size="48" text-anchor="middle">***</text>
<rect x="2026.39" y="1116.38" width="39.0152" height="3.6" fill="#111"/>
<text class="k" transform="translate(2044.58 1120.04) scale(1 0.83)" font-size="48" text-anchor="middle">***</text>
<rect x="2024.5" y="1146.68" width="20.8333" height="3.6" fill="#111"/>
<text class="k" transform="translate(2035.11 1152.23) scale(1 0.83)" font-size="48" text-anchor="middle">**</text>
<rect x="2068.44" y="1147.44" width="20.8333" height="3.6" fill="#111"/>
<text class="k" transform="translate(2078.67 1152.99) scale(1 0.83)" font-size="48" text-anchor="middle">*</text>
<rect x="2046.47" y="1180.78" width="20.8333" height="3.6" fill="#111"/>
<text class="k" transform="translate(2057.08 1182.54) scale(1 0.83)" font-size="48" text-anchor="middle">**</text>
<text class="k" x="1752.5" y="1593.7" font-size="32" text-anchor="middle">No</text>
<text class="k" x="1756.5" y="1632" font-size="33" text-anchor="middle">MCM</text>
<text class="k" x="1857.3" y="1593.7" font-size="32" text-anchor="middle">3 h</text>
<text class="k" x="1957.3" y="1593.7" font-size="32" text-anchor="middle">24 h</text>
<text class="k" x="2057" y="1593.7" font-size="32" text-anchor="middle">48 h</text>
<rect x="1823" y="1595.8" width="267" height="1.6" fill="#222"/>
<text class="k" x="1954.4" y="1632" font-size="33" text-anchor="middle">MCM</text>
<text class="k" x="0" y="0" font-size="28.5" text-anchor="middle" transform="translate(1566 1355.5) rotate(-90)">Area under curve</text>
<text class="k" x="0" y="0" font-size="28.5" text-anchor="middle" transform="translate(1600 1355.5) rotate(-90)">(%DsRed phagocytic cells x h)</text>
<text class="k" x="1547" y="1119" font-size="47" text-anchor="start">K</text>
<rect x="15" y="1650" width="51.6" height="28.6" fill="#3ab54a"/>
<text class="k" x="75.3" y="1676" font-size="29.4" text-anchor="start">Control</text>
<rect x="205.8" y="1648.3" width="51.6" height="28.6" fill="#e04e00"/>
<text class="k" x="262.3" y="1674.5" font-size="28.8" text-anchor="start">IFN-γ+LPS</text>
<rect x="441" y="1650" width="51.6" height="28.6" fill="#41aaff"/>
<text class="k" x="502" y="1676" font-size="28.3" text-anchor="start">VEGF</text>
<rect x="616" y="1648.3" width="51.6" height="28.6" fill="#00869c"/>
<text class="k" x="673.5" y="1674.5" font-size="29.5" text-anchor="start">PDGF</text>
<rect x="791.7" y="1648.3" width="51.6" height="28.6" fill="#0000aa"/>
<text class="k" x="854.5" y="1674.5" font-size="28.4" text-anchor="start">VEGF+PDGF</text>
<rect x="1064" y="1646" width="51.6" height="28.6" fill="#fdbb40"/>
<text class="k" x="1117.8" y="1672.5" font-size="28.6" text-anchor="start">IFN-γ+LPS+VEGF</text>
<rect x="1391.5" y="1646" width="51.6" height="28.6" fill="#ff44e0"/>
<text class="k" x="1444.3" y="1672.5" font-size="28.8" text-anchor="start">IFN-γ+LPS+PDGF</text>
<rect x="1719.5" y="1649.3" width="51.6" height="28.6" fill="#000000"/>
<text class="k" x="1773" y="1675.5" font-size="28.5" text-anchor="start">IFN-γ+LPS+VEGF+PDGF</text>
</svg></body></html>
